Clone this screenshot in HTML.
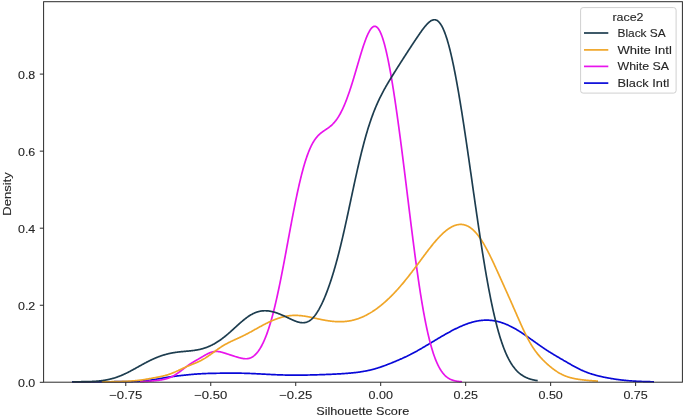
<!DOCTYPE html>
<html><head><meta charset="utf-8"><style>
html,body{margin:0;padding:0;background:#fff;}
svg{display:block;will-change:transform;}
text{font-family:"Liberation Sans",sans-serif;font-size:11.6px;fill:#262626;stroke:#262626;stroke-width:0.12px;}
.t{opacity:0.999;}
</style></head><body>
<svg width="685" height="417" viewBox="0 0 685 417">
<rect width="685" height="417" fill="#fff"/>
<path d="M72.00,381.94 L72.49,381.93 L72.97,381.93 L73.46,381.93 L73.94,381.93 L74.43,381.93 L74.91,381.92 L75.40,381.92 L75.88,381.92 L76.37,381.92 L76.85,381.91 L77.34,381.91 L77.82,381.91 L78.31,381.91 L78.80,381.91 L79.28,381.90 L79.77,381.90 L80.25,381.90 L80.74,381.90 L81.22,381.89 L81.71,381.89 L82.19,381.89 L82.68,381.89 L83.16,381.88 L83.65,381.88 L84.14,381.88 L84.62,381.88 L85.11,381.87 L85.59,381.87 L86.08,381.87 L86.56,381.86 L87.05,381.86 L87.53,381.86 L88.02,381.86 L88.50,381.85 L88.99,381.85 L89.47,381.85 L89.96,381.84 L90.45,381.84 L90.93,381.84 L91.42,381.84 L91.90,381.83 L92.39,381.83 L92.87,381.83 L93.36,381.83 L93.84,381.82 L94.33,381.82 L94.81,381.82 L95.30,381.81 L95.78,381.81 L96.27,381.81 L96.76,381.81 L97.24,381.80 L97.73,381.80 L98.21,381.80 L98.70,381.80 L99.18,381.79 L99.67,381.79 L100.15,381.79 L100.64,381.79 L101.12,381.78 L101.61,381.78 L102.10,381.78 L102.58,381.78 L103.07,381.77 L103.55,381.77 L104.04,381.77 L104.52,381.77 L105.01,381.76 L105.49,381.76 L105.98,381.76 L106.46,381.76 L106.95,381.75 L107.43,381.75 L107.92,381.75 L108.41,381.75 L108.89,381.75 L109.38,381.74 L109.86,381.74 L110.35,381.74 L110.83,381.74 L111.32,381.74 L111.80,381.73 L112.29,381.73 L112.77,381.73 L113.26,381.73 L113.74,381.73 L114.23,381.72 L114.72,381.72 L115.20,381.72 L115.69,381.72 L116.17,381.72 L116.66,381.71 L117.14,381.71 L117.63,381.71 L118.11,381.71 L118.60,381.70 L119.08,381.70 L119.57,381.70 L120.06,381.70 L120.54,381.69 L121.03,381.69 L121.51,381.69 L122.00,381.68 L122.48,381.68 L122.97,381.68 L123.45,381.67 L123.94,381.67 L124.42,381.66 L124.91,381.66 L125.39,381.65 L125.88,381.65 L126.37,381.64 L126.85,381.64 L127.34,381.63 L127.82,381.62 L128.31,381.62 L128.79,381.61 L129.28,381.60 L129.76,381.59 L130.25,381.58 L130.73,381.57 L131.22,381.56 L131.70,381.55 L132.19,381.54 L132.68,381.53 L133.16,381.51 L133.65,381.50 L134.13,381.48 L134.62,381.47 L135.10,381.45 L135.59,381.43 L136.07,381.41 L136.56,381.39 L137.04,381.37 L137.53,381.35 L138.02,381.32 L138.50,381.30 L138.99,381.27 L139.47,381.24 L139.96,381.21 L140.44,381.18 L140.93,381.14 L141.41,381.11 L141.90,381.07 L142.38,381.03 L142.87,380.99 L143.35,380.95 L143.84,380.91 L144.33,380.86 L144.81,380.82 L145.30,380.77 L145.78,380.72 L146.27,380.66 L146.75,380.61 L147.24,380.55 L147.72,380.49 L148.21,380.43 L148.69,380.37 L149.18,380.31 L149.66,380.24 L150.15,380.17 L150.64,380.11 L151.12,380.04 L151.61,379.96 L152.09,379.89 L152.58,379.81 L153.06,379.74 L153.55,379.66 L154.03,379.58 L154.52,379.50 L155.00,379.42 L155.49,379.34 L155.97,379.26 L156.46,379.17 L156.95,379.09 L157.43,379.00 L157.92,378.92 L158.40,378.83 L158.89,378.75 L159.37,378.66 L159.86,378.58 L160.34,378.49 L160.83,378.40 L161.31,378.32 L161.80,378.23 L162.29,378.15 L162.77,378.06 L163.26,377.98 L163.74,377.90 L164.23,377.81 L164.71,377.73 L165.20,377.65 L165.68,377.57 L166.17,377.49 L166.65,377.42 L167.14,377.34 L167.62,377.26 L168.11,377.19 L168.60,377.11 L169.08,377.04 L169.57,376.97 L170.05,376.90 L170.54,376.83 L171.02,376.76 L171.51,376.69 L171.99,376.63 L172.48,376.56 L172.96,376.50 L173.45,376.43 L173.93,376.37 L174.42,376.31 L174.91,376.25 L175.39,376.19 L175.88,376.13 L176.36,376.07 L176.85,376.01 L177.33,375.95 L177.82,375.89 L178.30,375.84 L178.79,375.78 L179.27,375.73 L179.76,375.67 L180.25,375.62 L180.73,375.56 L181.22,375.51 L181.70,375.45 L182.19,375.40 L182.67,375.35 L183.16,375.29 L183.64,375.24 L184.13,375.19 L184.61,375.14 L185.10,375.09 L185.58,375.04 L186.07,374.99 L186.56,374.94 L187.04,374.89 L187.53,374.84 L188.01,374.79 L188.50,374.74 L188.98,374.70 L189.47,374.65 L189.95,374.60 L190.44,374.56 L190.92,374.51 L191.41,374.47 L191.89,374.42 L192.38,374.38 L192.87,374.34 L193.35,374.30 L193.84,374.26 L194.32,374.22 L194.81,374.18 L195.29,374.14 L195.78,374.10 L196.26,374.07 L196.75,374.03 L197.23,374.00 L197.72,373.96 L198.21,373.93 L198.69,373.90 L199.18,373.87 L199.66,373.84 L200.15,373.81 L200.63,373.78 L201.12,373.76 L201.60,373.73 L202.09,373.70 L202.57,373.68 L203.06,373.66 L203.54,373.63 L204.03,373.61 L204.52,373.59 L205.00,373.57 L205.49,373.55 L205.97,373.53 L206.46,373.52 L206.94,373.50 L207.43,373.48 L207.91,373.47 L208.40,373.45 L208.88,373.44 L209.37,373.42 L209.85,373.41 L210.34,373.40 L210.83,373.39 L211.31,373.37 L211.80,373.36 L212.28,373.35 L212.77,373.34 L213.25,373.33 L213.74,373.32 L214.22,373.31 L214.71,373.30 L215.19,373.29 L215.68,373.29 L216.17,373.28 L216.65,373.27 L217.14,373.26 L217.62,373.25 L218.11,373.25 L218.59,373.24 L219.08,373.23 L219.56,373.23 L220.05,373.22 L220.53,373.21 L221.02,373.21 L221.50,373.20 L221.99,373.20 L222.48,373.19 L222.96,373.18 L223.45,373.18 L223.93,373.17 L224.42,373.17 L224.90,373.17 L225.39,373.16 L225.87,373.16 L226.36,373.15 L226.84,373.15 L227.33,373.15 L227.81,373.14 L228.30,373.14 L228.79,373.14 L229.27,373.14 L229.76,373.13 L230.24,373.13 L230.73,373.13 L231.21,373.13 L231.70,373.13 L232.18,373.13 L232.67,373.13 L233.15,373.13 L233.64,373.13 L234.13,373.13 L234.61,373.14 L235.10,373.14 L235.58,373.14 L236.07,373.15 L236.55,373.15 L237.04,373.15 L237.52,373.16 L238.01,373.16 L238.49,373.17 L238.98,373.18 L239.46,373.18 L239.95,373.19 L240.44,373.20 L240.92,373.21 L241.41,373.22 L241.89,373.23 L242.38,373.24 L242.86,373.25 L243.35,373.26 L243.83,373.27 L244.32,373.28 L244.80,373.30 L245.29,373.31 L245.77,373.33 L246.26,373.34 L246.75,373.36 L247.23,373.37 L247.72,373.39 L248.20,373.40 L248.69,373.42 L249.17,373.44 L249.66,373.46 L250.14,373.48 L250.63,373.50 L251.11,373.52 L251.60,373.54 L252.09,373.56 L252.57,373.58 L253.06,373.60 L253.54,373.62 L254.03,373.64 L254.51,373.66 L255.00,373.69 L255.48,373.71 L255.97,373.73 L256.45,373.76 L256.94,373.78 L257.42,373.81 L257.91,373.83 L258.40,373.86 L258.88,373.88 L259.37,373.90 L259.85,373.93 L260.34,373.96 L260.82,373.98 L261.31,374.01 L261.79,374.03 L262.28,374.06 L262.76,374.08 L263.25,374.11 L263.73,374.13 L264.22,374.16 L264.71,374.19 L265.19,374.21 L265.68,374.24 L266.16,374.26 L266.65,374.29 L267.13,374.31 L267.62,374.34 L268.10,374.36 L268.59,374.39 L269.07,374.41 L269.56,374.44 L270.05,374.46 L270.53,374.49 L271.02,374.51 L271.50,374.53 L271.99,374.56 L272.47,374.58 L272.96,374.60 L273.44,374.62 L273.93,374.65 L274.41,374.67 L274.90,374.69 L275.38,374.71 L275.87,374.73 L276.36,374.75 L276.84,374.77 L277.33,374.79 L277.81,374.81 L278.30,374.82 L278.78,374.84 L279.27,374.86 L279.75,374.88 L280.24,374.89 L280.72,374.91 L281.21,374.92 L281.69,374.94 L282.18,374.95 L282.67,374.97 L283.15,374.98 L283.64,375.00 L284.12,375.01 L284.61,375.02 L285.09,375.03 L285.58,375.04 L286.06,375.05 L286.55,375.06 L287.03,375.07 L287.52,375.08 L288.01,375.09 L288.49,375.10 L288.98,375.10 L289.46,375.11 L289.95,375.12 L290.43,375.12 L290.92,375.13 L291.40,375.13 L291.89,375.14 L292.37,375.14 L292.86,375.14 L293.34,375.15 L293.83,375.15 L294.32,375.15 L294.80,375.15 L295.29,375.15 L295.77,375.15 L296.26,375.15 L296.74,375.15 L297.23,375.15 L297.71,375.15 L298.20,375.15 L298.68,375.14 L299.17,375.14 L299.65,375.14 L300.14,375.13 L300.63,375.13 L301.11,375.13 L301.60,375.12 L302.08,375.12 L302.57,375.11 L303.05,375.10 L303.54,375.10 L304.02,375.09 L304.51,375.08 L304.99,375.08 L305.48,375.07 L305.96,375.06 L306.45,375.05 L306.94,375.04 L307.42,375.03 L307.91,375.02 L308.39,375.01 L308.88,375.00 L309.36,374.99 L309.85,374.98 L310.33,374.97 L310.82,374.96 L311.30,374.95 L311.79,374.93 L312.28,374.92 L312.76,374.91 L313.25,374.90 L313.73,374.88 L314.22,374.87 L314.70,374.86 L315.19,374.84 L315.67,374.83 L316.16,374.82 L316.64,374.80 L317.13,374.79 L317.61,374.77 L318.10,374.76 L318.59,374.74 L319.07,374.73 L319.56,374.71 L320.04,374.70 L320.53,374.68 L321.01,374.67 L321.50,374.65 L321.98,374.63 L322.47,374.62 L322.95,374.60 L323.44,374.58 L323.92,374.56 L324.41,374.55 L324.90,374.53 L325.38,374.51 L325.87,374.49 L326.35,374.47 L326.84,374.46 L327.32,374.44 L327.81,374.42 L328.29,374.40 L328.78,374.38 L329.26,374.36 L329.75,374.34 L330.24,374.32 L330.72,374.30 L331.21,374.28 L331.69,374.26 L332.18,374.23 L332.66,374.21 L333.15,374.19 L333.63,374.17 L334.12,374.14 L334.60,374.12 L335.09,374.10 L335.57,374.07 L336.06,374.05 L336.55,374.02 L337.03,374.00 L337.52,373.97 L338.00,373.95 L338.49,373.92 L338.97,373.89 L339.46,373.87 L339.94,373.84 L340.43,373.81 L340.91,373.78 L341.40,373.75 L341.88,373.72 L342.37,373.69 L342.86,373.66 L343.34,373.63 L343.83,373.59 L344.31,373.56 L344.80,373.52 L345.28,373.49 L345.77,373.45 L346.25,373.42 L346.74,373.38 L347.22,373.34 L347.71,373.30 L348.20,373.26 L348.68,373.22 L349.17,373.18 L349.65,373.14 L350.14,373.09 L350.62,373.05 L351.11,373.00 L351.59,372.96 L352.08,372.91 L352.56,372.86 L353.05,372.81 L353.53,372.76 L354.02,372.71 L354.51,372.65 L354.99,372.60 L355.48,372.54 L355.96,372.48 L356.45,372.43 L356.93,372.37 L357.42,372.30 L357.90,372.24 L358.39,372.18 L358.87,372.11 L359.36,372.04 L359.84,371.97 L360.33,371.90 L360.82,371.83 L361.30,371.76 L361.79,371.68 L362.27,371.60 L362.76,371.52 L363.24,371.44 L363.73,371.36 L364.21,371.27 L364.70,371.19 L365.18,371.10 L365.67,371.01 L366.16,370.91 L366.64,370.82 L367.13,370.72 L367.61,370.62 L368.10,370.52 L368.58,370.41 L369.07,370.30 L369.55,370.20 L370.04,370.08 L370.52,369.97 L371.01,369.85 L371.49,369.73 L371.98,369.61 L372.47,369.49 L372.95,369.36 L373.44,369.23 L373.92,369.10 L374.41,368.97 L374.89,368.83 L375.38,368.69 L375.86,368.55 L376.35,368.41 L376.83,368.26 L377.32,368.11 L377.80,367.96 L378.29,367.81 L378.78,367.65 L379.26,367.50 L379.75,367.34 L380.23,367.17 L380.72,367.01 L381.20,366.84 L381.69,366.67 L382.17,366.50 L382.66,366.33 L383.14,366.16 L383.63,365.98 L384.12,365.80 L384.60,365.63 L385.09,365.44 L385.57,365.26 L386.06,365.08 L386.54,364.89 L387.03,364.71 L387.51,364.52 L388.00,364.33 L388.48,364.14 L388.97,363.95 L389.45,363.76 L389.94,363.57 L390.43,363.38 L390.91,363.18 L391.40,362.99 L391.88,362.79 L392.37,362.59 L392.85,362.40 L393.34,362.20 L393.82,362.00 L394.31,361.80 L394.79,361.60 L395.28,361.40 L395.76,361.19 L396.25,360.99 L396.74,360.78 L397.22,360.58 L397.71,360.37 L398.19,360.17 L398.68,359.96 L399.16,359.75 L399.65,359.54 L400.13,359.33 L400.62,359.11 L401.10,358.90 L401.59,358.68 L402.08,358.47 L402.56,358.25 L403.05,358.03 L403.53,357.81 L404.02,357.58 L404.50,357.36 L404.99,357.13 L405.47,356.90 L405.96,356.67 L406.44,356.44 L406.93,356.21 L407.41,355.97 L407.90,355.74 L408.39,355.50 L408.87,355.26 L409.36,355.02 L409.84,354.77 L410.33,354.53 L410.81,354.28 L411.30,354.03 L411.78,353.78 L412.27,353.52 L412.75,353.27 L413.24,353.01 L413.72,352.75 L414.21,352.49 L414.70,352.23 L415.18,351.97 L415.67,351.70 L416.15,351.43 L416.64,351.17 L417.12,350.90 L417.61,350.62 L418.09,350.35 L418.58,350.08 L419.06,349.80 L419.55,349.53 L420.04,349.25 L420.52,348.97 L421.01,348.69 L421.49,348.41 L421.98,348.13 L422.46,347.84 L422.95,347.56 L423.43,347.28 L423.92,346.99 L424.40,346.71 L424.89,346.42 L425.37,346.13 L425.86,345.84 L426.35,345.55 L426.83,345.27 L427.32,344.98 L427.80,344.69 L428.29,344.40 L428.77,344.11 L429.26,343.81 L429.74,343.52 L430.23,343.23 L430.71,342.94 L431.20,342.65 L431.68,342.36 L432.17,342.07 L432.66,341.77 L433.14,341.48 L433.63,341.19 L434.11,340.90 L434.60,340.61 L435.08,340.32 L435.57,340.03 L436.05,339.74 L436.54,339.45 L437.02,339.16 L437.51,338.87 L437.99,338.58 L438.48,338.29 L438.97,338.00 L439.45,337.72 L439.94,337.43 L440.42,337.14 L440.91,336.86 L441.39,336.57 L441.88,336.29 L442.36,336.01 L442.85,335.73 L443.33,335.45 L443.82,335.17 L444.31,334.89 L444.79,334.61 L445.28,334.33 L445.76,334.06 L446.25,333.78 L446.73,333.51 L447.22,333.24 L447.70,332.97 L448.19,332.70 L448.67,332.43 L449.16,332.17 L449.64,331.90 L450.13,331.64 L450.62,331.38 L451.10,331.12 L451.59,330.86 L452.07,330.60 L452.56,330.35 L453.04,330.10 L453.53,329.85 L454.01,329.60 L454.50,329.35 L454.98,329.11 L455.47,328.87 L455.95,328.63 L456.44,328.39 L456.93,328.15 L457.41,327.92 L457.90,327.69 L458.38,327.46 L458.87,327.23 L459.35,327.01 L459.84,326.79 L460.32,326.57 L460.81,326.36 L461.29,326.14 L461.78,325.93 L462.27,325.73 L462.75,325.52 L463.24,325.32 L463.72,325.12 L464.21,324.93 L464.69,324.74 L465.18,324.55 L465.66,324.36 L466.15,324.18 L466.63,324.00 L467.12,323.83 L467.60,323.66 L468.09,323.49 L468.58,323.32 L469.06,323.16 L469.55,323.01 L470.03,322.85 L470.52,322.70 L471.00,322.56 L471.49,322.41 L471.97,322.27 L472.46,322.14 L472.94,322.01 L473.43,321.88 L473.91,321.76 L474.40,321.64 L474.89,321.53 L475.37,321.42 L475.86,321.31 L476.34,321.21 L476.83,321.12 L477.31,321.02 L477.80,320.94 L478.28,320.85 L478.77,320.77 L479.25,320.70 L479.74,320.63 L480.23,320.57 L480.71,320.50 L481.20,320.45 L481.68,320.40 L482.17,320.35 L482.65,320.31 L483.14,320.27 L483.62,320.24 L484.11,320.21 L484.59,320.19 L485.08,320.18 L485.56,320.16 L486.05,320.16 L486.54,320.15 L487.02,320.16 L487.51,320.17 L487.99,320.18 L488.48,320.20 L488.96,320.22 L489.45,320.25 L489.93,320.28 L490.42,320.32 L490.90,320.36 L491.39,320.41 L491.87,320.46 L492.36,320.52 L492.85,320.59 L493.33,320.66 L493.82,320.73 L494.30,320.81 L494.79,320.89 L495.27,320.98 L495.76,321.08 L496.24,321.18 L496.73,321.28 L497.21,321.39 L497.70,321.51 L498.19,321.63 L498.67,321.75 L499.16,321.88 L499.64,322.02 L500.13,322.16 L500.61,322.30 L501.10,322.45 L501.58,322.61 L502.07,322.77 L502.55,322.93 L503.04,323.10 L503.52,323.28 L504.01,323.45 L504.50,323.64 L504.98,323.83 L505.47,324.02 L505.95,324.22 L506.44,324.42 L506.92,324.63 L507.41,324.84 L507.89,325.05 L508.38,325.27 L508.86,325.50 L509.35,325.72 L509.83,325.96 L510.32,326.19 L510.81,326.44 L511.29,326.68 L511.78,326.93 L512.26,327.18 L512.75,327.44 L513.23,327.70 L513.72,327.96 L514.20,328.23 L514.69,328.50 L515.17,328.78 L515.66,329.06 L516.15,329.34 L516.63,329.63 L517.12,329.92 L517.60,330.21 L518.09,330.50 L518.57,330.80 L519.06,331.10 L519.54,331.41 L520.03,331.72 L520.51,332.03 L521.00,332.34 L521.48,332.65 L521.97,332.97 L522.46,333.29 L522.94,333.61 L523.43,333.94 L523.91,334.27 L524.40,334.59 L524.88,334.93 L525.37,335.26 L525.85,335.59 L526.34,335.93 L526.82,336.27 L527.31,336.61 L527.79,336.95 L528.28,337.29 L528.77,337.63 L529.25,337.97 L529.74,338.32 L530.22,338.66 L530.71,339.01 L531.19,339.36 L531.68,339.70 L532.16,340.05 L532.65,340.40 L533.13,340.75 L533.62,341.10 L534.11,341.44 L534.59,341.79 L535.08,342.14 L535.56,342.49 L536.05,342.83 L536.53,343.18 L537.02,343.53 L537.50,343.87 L537.99,344.21 L538.47,344.56 L538.96,344.90 L539.44,345.24 L539.93,345.58 L540.42,345.92 L540.90,346.25 L541.39,346.59 L541.87,346.92 L542.36,347.25 L542.84,347.58 L543.33,347.91 L543.81,348.24 L544.30,348.56 L544.78,348.89 L545.27,349.21 L545.75,349.53 L546.24,349.85 L546.73,350.16 L547.21,350.48 L547.70,350.79 L548.18,351.10 L548.67,351.41 L549.15,351.72 L549.64,352.02 L550.12,352.33 L550.61,352.63 L551.09,352.93 L551.58,353.23 L552.07,353.53 L552.55,353.82 L553.04,354.12 L553.52,354.41 L554.01,354.70 L554.49,355.00 L554.98,355.29 L555.46,355.58 L555.95,355.86 L556.43,356.15 L556.92,356.44 L557.40,356.72 L557.89,357.01 L558.38,357.30 L558.86,357.58 L559.35,357.87 L559.83,358.15 L560.32,358.43 L560.80,358.72 L561.29,359.00 L561.77,359.28 L562.26,359.57 L562.74,359.85 L563.23,360.13 L563.71,360.42 L564.20,360.70 L564.69,360.98 L565.17,361.26 L565.66,361.55 L566.14,361.83 L566.63,362.11 L567.11,362.39 L567.60,362.67 L568.08,362.95 L568.57,363.23 L569.05,363.51 L569.54,363.79 L570.03,364.06 L570.51,364.34 L571.00,364.62 L571.48,364.89 L571.97,365.16 L572.45,365.43 L572.94,365.70 L573.42,365.97 L573.91,366.24 L574.39,366.50 L574.88,366.76 L575.36,367.02 L575.85,367.28 L576.34,367.54 L576.82,367.79 L577.31,368.04 L577.79,368.29 L578.28,368.54 L578.76,368.78 L579.25,369.02 L579.73,369.25 L580.22,369.49 L580.70,369.72 L581.19,369.94 L581.67,370.17 L582.16,370.39 L582.65,370.60 L583.13,370.82 L583.62,371.03 L584.10,371.23 L584.59,371.44 L585.07,371.64 L585.56,371.83 L586.04,372.02 L586.53,372.21 L587.01,372.40 L587.50,372.58 L587.98,372.76 L588.47,372.94 L588.96,373.11 L589.44,373.28 L589.93,373.44 L590.41,373.61 L590.90,373.77 L591.38,373.92 L591.87,374.08 L592.35,374.23 L592.84,374.38 L593.32,374.52 L593.81,374.66 L594.30,374.80 L594.78,374.94 L595.27,375.08 L595.75,375.21 L596.24,375.34 L596.72,375.47 L597.21,375.60 L597.69,375.72 L598.18,375.84 L598.66,375.96 L599.15,376.08 L599.63,376.20 L600.12,376.31 L600.61,376.42 L601.09,376.53 L601.58,376.64 L602.06,376.75 L602.55,376.86 L603.03,376.96 L603.52,377.06 L604.00,377.17 L604.49,377.27 L604.97,377.37 L605.46,377.46 L605.94,377.56 L606.43,377.65 L606.92,377.75 L607.40,377.84 L607.89,377.93 L608.37,378.02 L608.86,378.11 L609.34,378.20 L609.83,378.28 L610.31,378.37 L610.80,378.45 L611.28,378.54 L611.77,378.62 L612.26,378.70 L612.74,378.78 L613.23,378.86 L613.71,378.93 L614.20,379.01 L614.68,379.08 L615.17,379.16 L615.65,379.23 L616.14,379.30 L616.62,379.37 L617.11,379.44 L617.59,379.51 L618.08,379.57 L618.57,379.64 L619.05,379.70 L619.54,379.76 L620.02,379.82 L620.51,379.89 L620.99,379.94 L621.48,380.00 L621.96,380.06 L622.45,380.11 L622.93,380.17 L623.42,380.22 L623.90,380.27 L624.39,380.32 L624.88,380.37 L625.36,380.42 L625.85,380.47 L626.33,380.52 L626.82,380.56 L627.30,380.61 L627.79,380.65 L628.27,380.69 L628.76,380.73 L629.24,380.77 L629.73,380.81 L630.22,380.85 L630.70,380.88 L631.19,380.92 L631.67,380.95 L632.16,380.99 L632.64,381.02 L633.13,381.05 L633.61,381.08 L634.10,381.11 L634.58,381.14 L635.07,381.17 L635.55,381.20 L636.04,381.22 L636.53,381.25 L637.01,381.28 L637.50,381.30 L637.98,381.32 L638.47,381.35 L638.95,381.37 L639.44,381.39 L639.92,381.41 L640.41,381.43 L640.89,381.45 L641.38,381.47 L641.86,381.49 L642.35,381.50 L642.84,381.52 L643.32,381.54 L643.81,381.55 L644.29,381.57 L644.78,381.58 L645.26,381.60 L645.75,381.61 L646.23,381.62 L646.72,381.64 L647.20,381.65 L647.69,381.66 L648.18,381.67 L648.66,381.68 L649.15,381.69 L649.63,381.71 L650.12,381.72 L650.60,381.73 L651.09,381.73 L651.57,381.74 L652.06,381.75 L652.54,381.76 L653.03,381.77 L653.51,381.78 L654.00,381.79" fill="none" stroke="#0808d8" stroke-width="1.7" stroke-linejoin="round" stroke-linecap="butt"/>
<path d="M140.00,381.71 L140.27,381.70 L140.54,381.69 L140.81,381.68 L141.07,381.67 L141.34,381.66 L141.61,381.65 L141.88,381.63 L142.15,381.62 L142.42,381.61 L142.69,381.60 L142.95,381.58 L143.22,381.57 L143.49,381.56 L143.76,381.54 L144.03,381.53 L144.30,381.52 L144.57,381.50 L144.83,381.49 L145.10,381.47 L145.37,381.46 L145.64,381.44 L145.91,381.43 L146.18,381.41 L146.45,381.39 L146.71,381.38 L146.98,381.36 L147.25,381.34 L147.52,381.33 L147.79,381.31 L148.06,381.29 L148.33,381.27 L148.59,381.25 L148.86,381.23 L149.13,381.21 L149.40,381.19 L149.67,381.17 L149.94,381.15 L150.21,381.13 L150.47,381.11 L150.74,381.09 L151.01,381.07 L151.28,381.05 L151.55,381.02 L151.82,381.00 L152.09,380.98 L152.35,380.95 L152.62,380.93 L152.89,380.91 L153.16,380.88 L153.43,380.86 L153.70,380.83 L153.96,380.81 L154.23,380.78 L154.50,380.75 L154.77,380.73 L155.04,380.70 L155.31,380.67 L155.58,380.64 L155.84,380.61 L156.11,380.58 L156.38,380.55 L156.65,380.52 L156.92,380.49 L157.19,380.46 L157.46,380.43 L157.72,380.39 L157.99,380.36 L158.26,380.32 L158.53,380.29 L158.80,380.25 L159.07,380.21 L159.34,380.18 L159.60,380.14 L159.87,380.10 L160.14,380.06 L160.41,380.02 L160.68,379.97 L160.95,379.93 L161.22,379.89 L161.48,379.84 L161.75,379.79 L162.02,379.74 L162.29,379.69 L162.56,379.64 L162.83,379.59 L163.10,379.54 L163.36,379.48 L163.63,379.42 L163.90,379.37 L164.17,379.31 L164.44,379.24 L164.71,379.18 L164.98,379.11 L165.24,379.05 L165.51,378.98 L165.78,378.91 L166.05,378.83 L166.32,378.76 L166.59,378.68 L166.86,378.60 L167.12,378.52 L167.39,378.44 L167.66,378.35 L167.93,378.26 L168.20,378.17 L168.47,378.08 L168.74,377.98 L169.00,377.88 L169.27,377.78 L169.54,377.68 L169.81,377.57 L170.08,377.46 L170.35,377.35 L170.62,377.23 L170.88,377.11 L171.15,376.99 L171.42,376.87 L171.69,376.74 L171.96,376.62 L172.23,376.48 L172.50,376.35 L172.76,376.21 L173.03,376.07 L173.30,375.93 L173.57,375.78 L173.84,375.63 L174.11,375.48 L174.38,375.32 L174.64,375.17 L174.91,375.01 L175.18,374.84 L175.45,374.68 L175.72,374.51 L175.99,374.34 L176.26,374.17 L176.52,373.99 L176.79,373.81 L177.06,373.63 L177.33,373.45 L177.60,373.26 L177.87,373.08 L178.14,372.89 L178.40,372.70 L178.67,372.50 L178.94,372.31 L179.21,372.11 L179.48,371.92 L179.75,371.72 L180.02,371.52 L180.28,371.31 L180.55,371.11 L180.82,370.91 L181.09,370.70 L181.36,370.50 L181.63,370.29 L181.89,370.09 L182.16,369.88 L182.43,369.67 L182.70,369.47 L182.97,369.26 L183.24,369.05 L183.51,368.84 L183.77,368.64 L184.04,368.43 L184.31,368.22 L184.58,368.02 L184.85,367.81 L185.12,367.61 L185.39,367.41 L185.65,367.20 L185.92,367.00 L186.19,366.80 L186.46,366.60 L186.73,366.41 L187.00,366.21 L187.27,366.01 L187.53,365.82 L187.80,365.63 L188.07,365.44 L188.34,365.25 L188.61,365.06 L188.88,364.88 L189.15,364.69 L189.41,364.51 L189.68,364.33 L189.95,364.15 L190.22,363.97 L190.49,363.79 L190.76,363.62 L191.03,363.44 L191.29,363.27 L191.56,363.10 L191.83,362.93 L192.10,362.76 L192.37,362.60 L192.64,362.43 L192.91,362.27 L193.17,362.10 L193.44,361.94 L193.71,361.78 L193.98,361.62 L194.25,361.46 L194.52,361.30 L194.79,361.15 L195.05,360.99 L195.32,360.83 L195.59,360.68 L195.86,360.52 L196.13,360.36 L196.40,360.21 L196.67,360.05 L196.93,359.90 L197.20,359.74 L197.47,359.59 L197.74,359.43 L198.01,359.28 L198.28,359.12 L198.55,358.97 L198.81,358.81 L199.08,358.66 L199.35,358.50 L199.62,358.35 L199.89,358.19 L200.16,358.03 L200.43,357.87 L200.69,357.72 L200.96,357.56 L201.23,357.40 L201.50,357.24 L201.77,357.09 L202.04,356.93 L202.31,356.77 L202.57,356.61 L202.84,356.45 L203.11,356.30 L203.38,356.14 L203.65,355.98 L203.92,355.82 L204.19,355.67 L204.45,355.51 L204.72,355.36 L204.99,355.21 L205.26,355.05 L205.53,354.90 L205.80,354.75 L206.07,354.61 L206.33,354.46 L206.60,354.31 L206.87,354.17 L207.14,354.03 L207.41,353.89 L207.68,353.76 L207.94,353.63 L208.21,353.49 L208.48,353.37 L208.75,353.24 L209.02,353.12 L209.29,353.00 L209.56,352.89 L209.82,352.78 L210.09,352.67 L210.36,352.57 L210.63,352.47 L210.90,352.37 L211.17,352.28 L211.44,352.20 L211.70,352.11 L211.97,352.04 L212.24,351.96 L212.51,351.89 L212.78,351.83 L213.05,351.77 L213.32,351.72 L213.58,351.67 L213.85,351.62 L214.12,351.58 L214.39,351.55 L214.66,351.52 L214.93,351.49 L215.20,351.47 L215.46,351.45 L215.73,351.44 L216.00,351.44 L216.27,351.43 L216.54,351.44 L216.81,351.44 L217.08,351.45 L217.34,351.47 L217.61,351.49 L217.88,351.51 L218.15,351.54 L218.42,351.57 L218.69,351.61 L218.96,351.65 L219.22,351.69 L219.49,351.73 L219.76,351.78 L220.03,351.84 L220.30,351.89 L220.57,351.95 L220.84,352.01 L221.10,352.07 L221.37,352.14 L221.64,352.21 L221.91,352.28 L222.18,352.35 L222.45,352.42 L222.72,352.50 L222.98,352.58 L223.25,352.65 L223.52,352.73 L223.79,352.82 L224.06,352.90 L224.33,352.98 L224.60,353.07 L224.86,353.15 L225.13,353.24 L225.40,353.32 L225.67,353.41 L225.94,353.50 L226.21,353.59 L226.48,353.67 L226.74,353.76 L227.01,353.85 L227.28,353.94 L227.55,354.03 L227.82,354.11 L228.09,354.20 L228.36,354.29 L228.62,354.38 L228.89,354.47 L229.16,354.55 L229.43,354.64 L229.70,354.73 L229.97,354.82 L230.24,354.90 L230.50,354.99 L230.77,355.08 L231.04,355.16 L231.31,355.25 L231.58,355.34 L231.85,355.42 L232.12,355.51 L232.38,355.59 L232.65,355.68 L232.92,355.76 L233.19,355.85 L233.46,355.93 L233.73,356.02 L233.99,356.10 L234.26,356.19 L234.53,356.27 L234.80,356.36 L235.07,356.44 L235.34,356.52 L235.61,356.61 L235.87,356.69 L236.14,356.77 L236.41,356.85 L236.68,356.93 L236.95,357.01 L237.22,357.09 L237.49,357.17 L237.75,357.25 L238.02,357.33 L238.29,357.41 L238.56,357.49 L238.83,357.56 L239.10,357.64 L239.37,357.71 L239.63,357.78 L239.90,357.85 L240.17,357.92 L240.44,357.99 L240.71,358.05 L240.98,358.12 L241.25,358.18 L241.51,358.24 L241.78,358.29 L242.05,358.35 L242.32,358.40 L242.59,358.45 L242.86,358.50 L243.13,358.54 L243.39,358.58 L243.66,358.62 L243.93,358.65 L244.20,358.68 L244.47,358.70 L244.74,358.73 L245.01,358.74 L245.27,358.76 L245.54,358.76 L245.81,358.77 L246.08,358.77 L246.35,358.76 L246.62,358.75 L246.89,358.73 L247.15,358.71 L247.42,358.68 L247.69,358.64 L247.96,358.60 L248.23,358.56 L248.50,358.50 L248.77,358.44 L249.03,358.38 L249.30,358.31 L249.57,358.23 L249.84,358.14 L250.11,358.05 L250.38,357.94 L250.65,357.84 L250.91,357.72 L251.18,357.60 L251.45,357.46 L251.72,357.33 L251.99,357.18 L252.26,357.02 L252.53,356.86 L252.79,356.69 L253.06,356.51 L253.33,356.32 L253.60,356.12 L253.87,355.91 L254.14,355.70 L254.41,355.47 L254.67,355.24 L254.94,355.00 L255.21,354.74 L255.48,354.48 L255.75,354.21 L256.02,353.93 L256.29,353.64 L256.55,353.35 L256.82,353.04 L257.09,352.72 L257.36,352.39 L257.63,352.05 L257.90,351.71 L258.17,351.35 L258.43,350.98 L258.70,350.60 L258.97,350.21 L259.24,349.81 L259.51,349.40 L259.78,348.98 L260.05,348.55 L260.31,348.11 L260.58,347.66 L260.85,347.20 L261.12,346.72 L261.39,346.24 L261.66,345.74 L261.92,345.24 L262.19,344.72 L262.46,344.19 L262.73,343.65 L263.00,343.09 L263.27,342.53 L263.54,341.95 L263.80,341.37 L264.07,340.77 L264.34,340.16 L264.61,339.53 L264.88,338.90 L265.15,338.25 L265.42,337.59 L265.68,336.92 L265.95,336.23 L266.22,335.54 L266.49,334.83 L266.76,334.11 L267.03,333.37 L267.30,332.62 L267.56,331.87 L267.83,331.09 L268.10,330.31 L268.37,329.51 L268.64,328.70 L268.91,327.88 L269.18,327.04 L269.44,326.19 L269.71,325.33 L269.98,324.45 L270.25,323.56 L270.52,322.66 L270.79,321.74 L271.06,320.82 L271.32,319.88 L271.59,318.92 L271.86,317.96 L272.13,316.98 L272.40,315.98 L272.67,314.98 L272.94,313.96 L273.20,312.93 L273.47,311.88 L273.74,310.83 L274.01,309.76 L274.28,308.68 L274.55,307.58 L274.82,306.48 L275.08,305.36 L275.35,304.23 L275.62,303.09 L275.89,301.93 L276.16,300.77 L276.43,299.59 L276.70,298.40 L276.96,297.20 L277.23,295.99 L277.50,294.77 L277.77,293.54 L278.04,292.30 L278.31,291.04 L278.58,289.78 L278.84,288.51 L279.11,287.22 L279.38,285.93 L279.65,284.63 L279.92,283.32 L280.19,282.00 L280.46,280.67 L280.72,279.33 L280.99,277.99 L281.26,276.64 L281.53,275.28 L281.80,273.91 L282.07,272.53 L282.34,271.15 L282.60,269.77 L282.87,268.37 L283.14,266.97 L283.41,265.57 L283.68,264.16 L283.95,262.74 L284.22,261.32 L284.48,259.90 L284.75,258.47 L285.02,257.04 L285.29,255.60 L285.56,254.16 L285.83,252.72 L286.10,251.28 L286.36,249.83 L286.63,248.38 L286.90,246.93 L287.17,245.48 L287.44,244.03 L287.71,242.58 L287.97,241.13 L288.24,239.67 L288.51,238.22 L288.78,236.77 L289.05,235.32 L289.32,233.87 L289.59,232.43 L289.85,230.99 L290.12,229.54 L290.39,228.11 L290.66,226.67 L290.93,225.24 L291.20,223.81 L291.47,222.39 L291.73,220.97 L292.00,219.56 L292.27,218.15 L292.54,216.74 L292.81,215.35 L293.08,213.95 L293.35,212.57 L293.61,211.19 L293.88,209.82 L294.15,208.46 L294.42,207.10 L294.69,205.75 L294.96,204.41 L295.23,203.08 L295.49,201.76 L295.76,200.44 L296.03,199.14 L296.30,197.84 L296.57,196.56 L296.84,195.28 L297.11,194.02 L297.37,192.76 L297.64,191.52 L297.91,190.29 L298.18,189.07 L298.45,187.86 L298.72,186.66 L298.99,185.47 L299.25,184.30 L299.52,183.14 L299.79,181.99 L300.06,180.85 L300.33,179.72 L300.60,178.61 L300.87,177.52 L301.13,176.43 L301.40,175.36 L301.67,174.30 L301.94,173.26 L302.21,172.23 L302.48,171.21 L302.75,170.21 L303.01,169.22 L303.28,168.25 L303.55,167.29 L303.82,166.34 L304.09,165.41 L304.36,164.49 L304.63,163.59 L304.89,162.70 L305.16,161.83 L305.43,160.97 L305.70,160.12 L305.97,159.29 L306.24,158.48 L306.51,157.68 L306.77,156.89 L307.04,156.12 L307.31,155.36 L307.58,154.62 L307.85,153.89 L308.12,153.18 L308.39,152.48 L308.65,151.80 L308.92,151.12 L309.19,150.47 L309.46,149.82 L309.73,149.19 L310.00,148.58 L310.27,147.98 L310.53,147.39 L310.80,146.81 L311.07,146.25 L311.34,145.70 L311.61,145.17 L311.88,144.64 L312.15,144.13 L312.41,143.64 L312.68,143.15 L312.95,142.68 L313.22,142.21 L313.49,141.76 L313.76,141.33 L314.03,140.90 L314.29,140.48 L314.56,140.08 L314.83,139.68 L315.10,139.30 L315.37,138.92 L315.64,138.56 L315.90,138.21 L316.17,137.86 L316.44,137.53 L316.71,137.20 L316.98,136.88 L317.25,136.57 L317.52,136.27 L317.78,135.98 L318.05,135.69 L318.32,135.42 L318.59,135.15 L318.86,134.88 L319.13,134.62 L319.40,134.37 L319.66,134.13 L319.93,133.89 L320.20,133.66 L320.47,133.43 L320.74,133.21 L321.01,132.99 L321.28,132.78 L321.54,132.57 L321.81,132.36 L322.08,132.16 L322.35,131.96 L322.62,131.76 L322.89,131.57 L323.16,131.38 L323.42,131.19 L323.69,131.01 L323.96,130.82 L324.23,130.64 L324.50,130.46 L324.77,130.28 L325.04,130.10 L325.30,129.92 L325.57,129.74 L325.84,129.56 L326.11,129.38 L326.38,129.19 L326.65,129.01 L326.92,128.83 L327.18,128.64 L327.45,128.46 L327.72,128.27 L327.99,128.08 L328.26,127.88 L328.53,127.69 L328.80,127.49 L329.06,127.28 L329.33,127.08 L329.60,126.87 L329.87,126.66 L330.14,126.44 L330.41,126.22 L330.68,125.99 L330.94,125.76 L331.21,125.53 L331.48,125.29 L331.75,125.04 L332.02,124.79 L332.29,124.53 L332.56,124.27 L332.82,124.00 L333.09,123.73 L333.36,123.45 L333.63,123.16 L333.90,122.87 L334.17,122.57 L334.44,122.26 L334.70,121.95 L334.97,121.63 L335.24,121.30 L335.51,120.96 L335.78,120.62 L336.05,120.26 L336.32,119.90 L336.58,119.54 L336.85,119.16 L337.12,118.78 L337.39,118.39 L337.66,117.98 L337.93,117.58 L338.20,117.16 L338.46,116.73 L338.73,116.30 L339.00,115.85 L339.27,115.40 L339.54,114.94 L339.81,114.47 L340.08,113.99 L340.34,113.50 L340.61,113.00 L340.88,112.50 L341.15,111.98 L341.42,111.46 L341.69,110.92 L341.95,110.38 L342.22,109.82 L342.49,109.26 L342.76,108.69 L343.03,108.11 L343.30,107.52 L343.57,106.92 L343.83,106.31 L344.10,105.69 L344.37,105.06 L344.64,104.43 L344.91,103.78 L345.18,103.12 L345.45,102.46 L345.71,101.79 L345.98,101.10 L346.25,100.41 L346.52,99.71 L346.79,99.00 L347.06,98.29 L347.33,97.56 L347.59,96.83 L347.86,96.08 L348.13,95.33 L348.40,94.57 L348.67,93.80 L348.94,93.03 L349.21,92.25 L349.47,91.46 L349.74,90.66 L350.01,89.85 L350.28,89.04 L350.55,88.22 L350.82,87.39 L351.09,86.56 L351.35,85.72 L351.62,84.87 L351.89,84.02 L352.16,83.16 L352.43,82.30 L352.70,81.43 L352.97,80.56 L353.23,79.68 L353.50,78.79 L353.77,77.91 L354.04,77.01 L354.31,76.12 L354.58,75.22 L354.85,74.32 L355.11,73.41 L355.38,72.50 L355.65,71.59 L355.92,70.68 L356.19,69.77 L356.46,68.85 L356.73,67.93 L356.99,67.02 L357.26,66.10 L357.53,65.18 L357.80,64.26 L358.07,63.35 L358.34,62.43 L358.61,61.52 L358.87,60.61 L359.14,59.70 L359.41,58.79 L359.68,57.89 L359.95,56.99 L360.22,56.09 L360.49,55.20 L360.75,54.31 L361.02,53.43 L361.29,52.55 L361.56,51.69 L361.83,50.82 L362.10,49.97 L362.37,49.12 L362.63,48.28 L362.90,47.45 L363.17,46.63 L363.44,45.81 L363.71,45.01 L363.98,44.22 L364.25,43.44 L364.51,42.67 L364.78,41.91 L365.05,41.16 L365.32,40.43 L365.59,39.71 L365.86,39.01 L366.13,38.31 L366.39,37.64 L366.66,36.97 L366.93,36.33 L367.20,35.70 L367.47,35.08 L367.74,34.49 L368.01,33.91 L368.27,33.35 L368.54,32.81 L368.81,32.28 L369.08,31.78 L369.35,31.29 L369.62,30.83 L369.88,30.38 L370.15,29.96 L370.42,29.56 L370.69,29.18 L370.96,28.82 L371.23,28.48 L371.50,28.17 L371.76,27.88 L372.03,27.61 L372.30,27.37 L372.57,27.15 L372.84,26.95 L373.11,26.78 L373.38,26.64 L373.64,26.52 L373.91,26.42 L374.18,26.36 L374.45,26.31 L374.72,26.30 L374.99,26.31 L375.26,26.35 L375.52,26.41 L375.79,26.50 L376.06,26.62 L376.33,26.77 L376.60,26.94 L376.87,27.14 L377.14,27.37 L377.40,27.62 L377.67,27.91 L377.94,28.22 L378.21,28.56 L378.48,28.93 L378.75,29.32 L379.02,29.75 L379.28,30.20 L379.55,30.68 L379.82,31.19 L380.09,31.72 L380.36,32.29 L380.63,32.88 L380.90,33.50 L381.16,34.15 L381.43,34.82 L381.70,35.52 L381.97,36.25 L382.24,37.01 L382.51,37.80 L382.78,38.61 L383.04,39.45 L383.31,40.31 L383.58,41.20 L383.85,42.12 L384.12,43.06 L384.39,44.03 L384.66,45.03 L384.92,46.05 L385.19,47.09 L385.46,48.17 L385.73,49.26 L386.00,50.38 L386.27,51.53 L386.54,52.70 L386.80,53.89 L387.07,55.10 L387.34,56.34 L387.61,57.61 L387.88,58.89 L388.15,60.20 L388.42,61.53 L388.68,62.88 L388.95,64.26 L389.22,65.65 L389.49,67.07 L389.76,68.50 L390.03,69.96 L390.30,71.44 L390.56,72.94 L390.83,74.46 L391.10,75.99 L391.37,77.55 L391.64,79.13 L391.91,80.72 L392.18,82.33 L392.44,83.96 L392.71,85.61 L392.98,87.28 L393.25,88.96 L393.52,90.66 L393.79,92.38 L394.06,94.11 L394.32,95.86 L394.59,97.62 L394.86,99.41 L395.13,101.20 L395.40,103.01 L395.67,104.84 L395.93,106.68 L396.20,108.54 L396.47,110.41 L396.74,112.29 L397.01,114.19 L397.28,116.10 L397.55,118.02 L397.81,119.95 L398.08,121.90 L398.35,123.86 L398.62,125.83 L398.89,127.82 L399.16,129.81 L399.43,131.82 L399.69,133.84 L399.96,135.86 L400.23,137.90 L400.50,139.95 L400.77,142.01 L401.04,144.07 L401.31,146.15 L401.57,148.23 L401.84,150.33 L402.11,152.43 L402.38,154.53 L402.65,156.65 L402.92,158.77 L403.19,160.90 L403.45,163.04 L403.72,165.18 L403.99,167.33 L404.26,169.48 L404.53,171.64 L404.80,173.80 L405.07,175.97 L405.33,178.14 L405.60,180.32 L405.87,182.49 L406.14,184.67 L406.41,186.86 L406.68,189.04 L406.95,191.23 L407.21,193.41 L407.48,195.60 L407.75,197.79 L408.02,199.97 L408.29,202.16 L408.56,204.35 L408.83,206.53 L409.09,208.71 L409.36,210.89 L409.63,213.07 L409.90,215.24 L410.17,217.41 L410.44,219.58 L410.71,221.74 L410.97,223.89 L411.24,226.04 L411.51,228.18 L411.78,230.32 L412.05,232.45 L412.32,234.57 L412.59,236.69 L412.85,238.80 L413.12,240.89 L413.39,242.98 L413.66,245.06 L413.93,247.13 L414.20,249.19 L414.47,251.24 L414.73,253.28 L415.00,255.30 L415.27,257.31 L415.54,259.31 L415.81,261.30 L416.08,263.28 L416.35,265.24 L416.61,267.19 L416.88,269.12 L417.15,271.04 L417.42,272.94 L417.69,274.83 L417.96,276.70 L418.23,278.56 L418.49,280.40 L418.76,282.23 L419.03,284.03 L419.30,285.83 L419.57,287.60 L419.84,289.36 L420.11,291.10 L420.37,292.82 L420.64,294.52 L420.91,296.21 L421.18,297.87 L421.45,299.52 L421.72,301.15 L421.98,302.76 L422.25,304.36 L422.52,305.93 L422.79,307.48 L423.06,309.02 L423.33,310.53 L423.60,312.03 L423.86,313.51 L424.13,314.96 L424.40,316.40 L424.67,317.82 L424.94,319.22 L425.21,320.60 L425.48,321.96 L425.74,323.30 L426.01,324.62 L426.28,325.92 L426.55,327.20 L426.82,328.46 L427.09,329.71 L427.36,330.93 L427.62,332.13 L427.89,333.32 L428.16,334.48 L428.43,335.63 L428.70,336.76 L428.97,337.87 L429.24,338.96 L429.50,340.03 L429.77,341.08 L430.04,342.11 L430.31,343.13 L430.58,344.13 L430.85,345.11 L431.12,346.07 L431.38,347.01 L431.65,347.94 L431.92,348.85 L432.19,349.74 L432.46,350.62 L432.73,351.47 L433.00,352.31 L433.26,353.14 L433.53,353.95 L433.80,354.74 L434.07,355.51 L434.34,356.27 L434.61,357.01 L434.88,357.74 L435.14,358.45 L435.41,359.15 L435.68,359.83 L435.95,360.49 L436.22,361.15 L436.49,361.78 L436.76,362.40 L437.02,363.01 L437.29,363.61 L437.56,364.18 L437.83,364.75 L438.10,365.30 L438.37,365.84 L438.64,366.37 L438.90,366.88 L439.17,367.38 L439.44,367.87 L439.71,368.34 L439.98,368.81 L440.25,369.26 L440.52,369.70 L440.78,370.12 L441.05,370.54 L441.32,370.94 L441.59,371.34 L441.86,371.72 L442.13,372.09 L442.40,372.45 L442.66,372.80 L442.93,373.14 L443.20,373.47 L443.47,373.79 L443.74,374.10 L444.01,374.41 L444.28,374.70 L444.54,374.98 L444.81,375.26 L445.08,375.52 L445.35,375.78 L445.62,376.03 L445.89,376.27 L446.16,376.51 L446.42,376.73 L446.69,376.95 L446.96,377.16 L447.23,377.36 L447.50,377.56 L447.77,377.75 L448.04,377.93 L448.30,378.11 L448.57,378.28 L448.84,378.44 L449.11,378.60 L449.38,378.75 L449.65,378.90 L449.91,379.04 L450.18,379.17 L450.45,379.31 L450.72,379.43 L450.99,379.55 L451.26,379.67 L451.53,379.78 L451.79,379.88 L452.06,379.98 L452.33,380.08 L452.60,380.18 L452.87,380.27 L453.14,380.35 L453.41,380.43 L453.67,380.51 L453.94,380.59 L454.21,380.66 L454.48,380.73 L454.75,380.79 L455.02,380.86 L455.29,380.92 L455.55,380.97 L455.82,381.03 L456.09,381.08 L456.36,381.13 L456.63,381.18 L456.90,381.22 L457.17,381.26 L457.43,381.31 L457.70,381.34 L457.97,381.38 L458.24,381.42 L458.51,381.45 L458.78,381.48 L459.05,381.51 L459.31,381.54 L459.58,381.56 L459.85,381.59 L460.12,381.61 L460.39,381.64 L460.66,381.66 L460.93,381.68 L461.19,381.70 L461.46,381.72 L461.73,381.73 L462.00,381.75" fill="none" stroke="#e814ec" stroke-width="1.7" stroke-linejoin="round" stroke-linecap="butt"/>
<path d="M101.70,381.85 L102.11,381.85 L102.53,381.84 L102.94,381.84 L103.36,381.84 L103.77,381.83 L104.18,381.83 L104.60,381.82 L105.01,381.82 L105.43,381.81 L105.84,381.81 L106.25,381.80 L106.67,381.80 L107.08,381.79 L107.49,381.79 L107.91,381.78 L108.32,381.77 L108.74,381.77 L109.15,381.76 L109.56,381.76 L109.98,381.75 L110.39,381.74 L110.81,381.74 L111.22,381.73 L111.63,381.72 L112.05,381.72 L112.46,381.71 L112.88,381.70 L113.29,381.69 L113.70,381.69 L114.12,381.68 L114.53,381.67 L114.95,381.66 L115.36,381.65 L115.77,381.64 L116.19,381.63 L116.60,381.62 L117.02,381.61 L117.43,381.60 L117.84,381.59 L118.26,381.58 L118.67,381.57 L119.08,381.56 L119.50,381.55 L119.91,381.54 L120.33,381.52 L120.74,381.51 L121.15,381.50 L121.57,381.49 L121.98,381.47 L122.40,381.46 L122.81,381.44 L123.22,381.43 L123.64,381.41 L124.05,381.40 L124.47,381.38 L124.88,381.36 L125.29,381.35 L125.71,381.33 L126.12,381.31 L126.54,381.29 L126.95,381.27 L127.36,381.25 L127.78,381.23 L128.19,381.21 L128.61,381.18 L129.02,381.16 L129.43,381.14 L129.85,381.11 L130.26,381.09 L130.67,381.06 L131.09,381.03 L131.50,381.00 L131.92,380.97 L132.33,380.94 L132.74,380.91 L133.16,380.88 L133.57,380.84 L133.99,380.81 L134.40,380.77 L134.81,380.74 L135.23,380.70 L135.64,380.66 L136.06,380.62 L136.47,380.58 L136.88,380.53 L137.30,380.49 L137.71,380.44 L138.13,380.40 L138.54,380.35 L138.95,380.30 L139.37,380.25 L139.78,380.20 L140.20,380.15 L140.61,380.09 L141.02,380.04 L141.44,379.98 L141.85,379.92 L142.26,379.86 L142.68,379.80 L143.09,379.74 L143.51,379.68 L143.92,379.61 L144.33,379.55 L144.75,379.48 L145.16,379.42 L145.58,379.35 L145.99,379.28 L146.40,379.21 L146.82,379.14 L147.23,379.07 L147.65,379.00 L148.06,378.93 L148.47,378.86 L148.89,378.78 L149.30,378.71 L149.72,378.63 L150.13,378.56 L150.54,378.48 L150.96,378.41 L151.37,378.33 L151.79,378.26 L152.20,378.18 L152.61,378.10 L153.03,378.03 L153.44,377.95 L153.85,377.87 L154.27,377.80 L154.68,377.72 L155.10,377.64 L155.51,377.56 L155.92,377.48 L156.34,377.40 L156.75,377.32 L157.17,377.24 L157.58,377.16 L157.99,377.08 L158.41,377.00 L158.82,376.92 L159.24,376.84 L159.65,376.75 L160.06,376.67 L160.48,376.58 L160.89,376.49 L161.31,376.40 L161.72,376.31 L162.13,376.22 L162.55,376.13 L162.96,376.03 L163.38,375.93 L163.79,375.83 L164.20,375.73 L164.62,375.63 L165.03,375.52 L165.44,375.41 L165.86,375.30 L166.27,375.18 L166.69,375.07 L167.10,374.95 L167.51,374.82 L167.93,374.69 L168.34,374.56 L168.76,374.43 L169.17,374.29 L169.58,374.15 L170.00,374.01 L170.41,373.86 L170.83,373.71 L171.24,373.56 L171.65,373.40 L172.07,373.24 L172.48,373.08 L172.90,372.91 L173.31,372.74 L173.72,372.57 L174.14,372.39 L174.55,372.22 L174.97,372.04 L175.38,371.85 L175.79,371.67 L176.21,371.48 L176.62,371.29 L177.03,371.10 L177.45,370.91 L177.86,370.71 L178.28,370.52 L178.69,370.32 L179.10,370.13 L179.52,369.93 L179.93,369.73 L180.35,369.53 L180.76,369.34 L181.17,369.14 L181.59,368.94 L182.00,368.75 L182.42,368.55 L182.83,368.36 L183.24,368.16 L183.66,367.97 L184.07,367.78 L184.49,367.59 L184.90,367.40 L185.31,367.22 L185.73,367.03 L186.14,366.85 L186.56,366.67 L186.97,366.49 L187.38,366.32 L187.80,366.14 L188.21,365.97 L188.62,365.79 L189.04,365.62 L189.45,365.45 L189.87,365.29 L190.28,365.12 L190.69,364.95 L191.11,364.79 L191.52,364.62 L191.94,364.46 L192.35,364.29 L192.76,364.13 L193.18,363.96 L193.59,363.80 L194.01,363.63 L194.42,363.47 L194.83,363.30 L195.25,363.13 L195.66,362.96 L196.08,362.78 L196.49,362.61 L196.90,362.43 L197.32,362.25 L197.73,362.07 L198.15,361.88 L198.56,361.69 L198.97,361.50 L199.39,361.30 L199.80,361.10 L200.21,360.90 L200.63,360.69 L201.04,360.48 L201.46,360.26 L201.87,360.04 L202.28,359.81 L202.70,359.58 L203.11,359.35 L203.53,359.11 L203.94,358.87 L204.35,358.62 L204.77,358.37 L205.18,358.11 L205.60,357.85 L206.01,357.59 L206.42,357.32 L206.84,357.05 L207.25,356.78 L207.67,356.50 L208.08,356.22 L208.49,355.93 L208.91,355.64 L209.32,355.35 L209.74,355.06 L210.15,354.76 L210.56,354.47 L210.98,354.17 L211.39,353.87 L211.80,353.57 L212.22,353.26 L212.63,352.96 L213.05,352.66 L213.46,352.35 L213.87,352.05 L214.29,351.74 L214.70,351.44 L215.12,351.14 L215.53,350.84 L215.94,350.54 L216.36,350.24 L216.77,349.94 L217.19,349.65 L217.60,349.35 L218.01,349.06 L218.43,348.77 L218.84,348.49 L219.26,348.21 L219.67,347.93 L220.08,347.65 L220.50,347.37 L220.91,347.10 L221.33,346.83 L221.74,346.57 L222.15,346.31 L222.57,346.05 L222.98,345.80 L223.39,345.55 L223.81,345.30 L224.22,345.05 L224.64,344.81 L225.05,344.58 L225.46,344.34 L225.88,344.11 L226.29,343.88 L226.71,343.66 L227.12,343.44 L227.53,343.22 L227.95,343.00 L228.36,342.79 L228.78,342.58 L229.19,342.37 L229.60,342.17 L230.02,341.96 L230.43,341.76 L230.85,341.56 L231.26,341.36 L231.67,341.17 L232.09,340.97 L232.50,340.78 L232.92,340.59 L233.33,340.40 L233.74,340.21 L234.16,340.02 L234.57,339.83 L234.98,339.64 L235.40,339.45 L235.81,339.26 L236.23,339.07 L236.64,338.89 L237.05,338.70 L237.47,338.51 L237.88,338.32 L238.30,338.13 L238.71,337.94 L239.12,337.75 L239.54,337.55 L239.95,337.36 L240.37,337.17 L240.78,336.97 L241.19,336.77 L241.61,336.58 L242.02,336.38 L242.44,336.18 L242.85,335.97 L243.26,335.77 L243.68,335.57 L244.09,335.36 L244.51,335.15 L244.92,334.94 L245.33,334.73 L245.75,334.52 L246.16,334.31 L246.57,334.09 L246.99,333.88 L247.40,333.66 L247.82,333.44 L248.23,333.22 L248.64,333.00 L249.06,332.78 L249.47,332.56 L249.89,332.34 L250.30,332.11 L250.71,331.88 L251.13,331.66 L251.54,331.43 L251.96,331.20 L252.37,330.97 L252.78,330.75 L253.20,330.52 L253.61,330.29 L254.03,330.06 L254.44,329.82 L254.85,329.59 L255.27,329.36 L255.68,329.13 L256.10,328.90 L256.51,328.67 L256.92,328.44 L257.34,328.21 L257.75,327.98 L258.16,327.75 L258.58,327.52 L258.99,327.29 L259.41,327.07 L259.82,326.84 L260.23,326.61 L260.65,326.39 L261.06,326.16 L261.48,325.94 L261.89,325.72 L262.30,325.49 L262.72,325.27 L263.13,325.05 L263.55,324.84 L263.96,324.62 L264.37,324.40 L264.79,324.19 L265.20,323.98 L265.62,323.77 L266.03,323.56 L266.44,323.35 L266.86,323.15 L267.27,322.94 L267.69,322.74 L268.10,322.54 L268.51,322.34 L268.93,322.14 L269.34,321.95 L269.75,321.76 L270.17,321.57 L270.58,321.38 L271.00,321.19 L271.41,321.01 L271.82,320.83 L272.24,320.65 L272.65,320.47 L273.07,320.29 L273.48,320.12 L273.89,319.95 L274.31,319.78 L274.72,319.62 L275.14,319.46 L275.55,319.30 L275.96,319.14 L276.38,318.99 L276.79,318.83 L277.21,318.69 L277.62,318.54 L278.03,318.40 L278.45,318.26 L278.86,318.12 L279.28,317.99 L279.69,317.85 L280.10,317.73 L280.52,317.60 L280.93,317.48 L281.34,317.36 L281.76,317.25 L282.17,317.13 L282.59,317.03 L283.00,316.92 L283.41,316.82 L283.83,316.72 L284.24,316.62 L284.66,316.53 L285.07,316.44 L285.48,316.36 L285.90,316.28 L286.31,316.20 L286.73,316.12 L287.14,316.05 L287.55,315.99 L287.97,315.92 L288.38,315.86 L288.80,315.80 L289.21,315.75 L289.62,315.70 L290.04,315.66 L290.45,315.61 L290.87,315.58 L291.28,315.54 L291.69,315.51 L292.11,315.48 L292.52,315.46 L292.93,315.44 L293.35,315.42 L293.76,315.41 L294.18,315.40 L294.59,315.39 L295.00,315.39 L295.42,315.39 L295.83,315.39 L296.25,315.40 L296.66,315.41 L297.07,315.42 L297.49,315.44 L297.90,315.46 L298.32,315.48 L298.73,315.50 L299.14,315.53 L299.56,315.56 L299.97,315.60 L300.39,315.64 L300.80,315.68 L301.21,315.72 L301.63,315.76 L302.04,315.81 L302.46,315.86 L302.87,315.92 L303.28,315.97 L303.70,316.03 L304.11,316.09 L304.52,316.15 L304.94,316.21 L305.35,316.28 L305.77,316.35 L306.18,316.42 L306.59,316.49 L307.01,316.56 L307.42,316.64 L307.84,316.71 L308.25,316.79 L308.66,316.87 L309.08,316.95 L309.49,317.03 L309.91,317.12 L310.32,317.20 L310.73,317.28 L311.15,317.37 L311.56,317.46 L311.98,317.54 L312.39,317.63 L312.80,317.72 L313.22,317.81 L313.63,317.90 L314.05,317.99 L314.46,318.08 L314.87,318.17 L315.29,318.26 L315.70,318.35 L316.11,318.44 L316.53,318.53 L316.94,318.62 L317.36,318.71 L317.77,318.80 L318.18,318.88 L318.60,318.97 L319.01,319.06 L319.43,319.15 L319.84,319.24 L320.25,319.32 L320.67,319.41 L321.08,319.49 L321.50,319.58 L321.91,319.66 L322.32,319.74 L322.74,319.82 L323.15,319.90 L323.57,319.98 L323.98,320.06 L324.39,320.14 L324.81,320.21 L325.22,320.29 L325.64,320.36 L326.05,320.43 L326.46,320.50 L326.88,320.57 L327.29,320.63 L327.70,320.70 L328.12,320.76 L328.53,320.82 L328.95,320.88 L329.36,320.94 L329.77,321.00 L330.19,321.05 L330.60,321.11 L331.02,321.16 L331.43,321.21 L331.84,321.25 L332.26,321.30 L332.67,321.34 L333.09,321.38 L333.50,321.42 L333.91,321.45 L334.33,321.49 L334.74,321.52 L335.16,321.55 L335.57,321.58 L335.98,321.60 L336.40,321.62 L336.81,321.64 L337.23,321.66 L337.64,321.67 L338.05,321.69 L338.47,321.70 L338.88,321.70 L339.29,321.71 L339.71,321.71 L340.12,321.71 L340.54,321.70 L340.95,321.70 L341.36,321.69 L341.78,321.68 L342.19,321.66 L342.61,321.64 L343.02,321.62 L343.43,321.60 L343.85,321.57 L344.26,321.54 L344.68,321.51 L345.09,321.47 L345.50,321.43 L345.92,321.39 L346.33,321.35 L346.75,321.30 L347.16,321.25 L347.57,321.19 L347.99,321.14 L348.40,321.07 L348.82,321.01 L349.23,320.94 L349.64,320.87 L350.06,320.80 L350.47,320.72 L350.88,320.64 L351.30,320.55 L351.71,320.47 L352.13,320.38 L352.54,320.28 L352.95,320.18 L353.37,320.08 L353.78,319.98 L354.20,319.87 L354.61,319.76 L355.02,319.64 L355.44,319.52 L355.85,319.40 L356.27,319.28 L356.68,319.15 L357.09,319.01 L357.51,318.88 L357.92,318.74 L358.34,318.60 L358.75,318.45 L359.16,318.30 L359.58,318.14 L359.99,317.99 L360.41,317.82 L360.82,317.66 L361.23,317.49 L361.65,317.32 L362.06,317.14 L362.47,316.97 L362.89,316.78 L363.30,316.60 L363.72,316.41 L364.13,316.21 L364.54,316.02 L364.96,315.82 L365.37,315.61 L365.79,315.40 L366.20,315.19 L366.61,314.98 L367.03,314.76 L367.44,314.54 L367.86,314.31 L368.27,314.08 L368.68,313.85 L369.10,313.62 L369.51,313.38 L369.93,313.13 L370.34,312.89 L370.75,312.64 L371.17,312.38 L371.58,312.13 L372.00,311.87 L372.41,311.60 L372.82,311.33 L373.24,311.06 L373.65,310.79 L374.06,310.51 L374.48,310.23 L374.89,309.95 L375.31,309.66 L375.72,309.37 L376.13,309.07 L376.55,308.77 L376.96,308.47 L377.38,308.17 L377.79,307.86 L378.20,307.55 L378.62,307.23 L379.03,306.91 L379.45,306.59 L379.86,306.27 L380.27,305.94 L380.69,305.61 L381.10,305.27 L381.52,304.94 L381.93,304.59 L382.34,304.25 L382.76,303.90 L383.17,303.55 L383.59,303.20 L384.00,302.84 L384.41,302.48 L384.83,302.12 L385.24,301.75 L385.65,301.38 L386.07,301.01 L386.48,300.63 L386.90,300.25 L387.31,299.87 L387.72,299.48 L388.14,299.09 L388.55,298.70 L388.97,298.31 L389.38,297.91 L389.79,297.51 L390.21,297.10 L390.62,296.69 L391.04,296.28 L391.45,295.87 L391.86,295.45 L392.28,295.03 L392.69,294.61 L393.11,294.18 L393.52,293.76 L393.93,293.32 L394.35,292.89 L394.76,292.45 L395.18,292.01 L395.59,291.57 L396.00,291.12 L396.42,290.67 L396.83,290.22 L397.24,289.76 L397.66,289.31 L398.07,288.84 L398.49,288.38 L398.90,287.91 L399.31,287.44 L399.73,286.97 L400.14,286.50 L400.56,286.02 L400.97,285.54 L401.38,285.06 L401.80,284.57 L402.21,284.08 L402.63,283.59 L403.04,283.10 L403.45,282.60 L403.87,282.10 L404.28,281.60 L404.70,281.10 L405.11,280.59 L405.52,280.08 L405.94,279.57 L406.35,279.06 L406.77,278.54 L407.18,278.02 L407.59,277.50 L408.01,276.98 L408.42,276.45 L408.83,275.93 L409.25,275.40 L409.66,274.87 L410.08,274.34 L410.49,273.80 L410.90,273.27 L411.32,272.73 L411.73,272.19 L412.15,271.65 L412.56,271.10 L412.97,270.56 L413.39,270.01 L413.80,269.47 L414.22,268.92 L414.63,268.37 L415.04,267.82 L415.46,267.26 L415.87,266.71 L416.29,266.16 L416.70,265.60 L417.11,265.05 L417.53,264.49 L417.94,263.93 L418.36,263.38 L418.77,262.82 L419.18,262.26 L419.60,261.70 L420.01,261.14 L420.42,260.58 L420.84,260.02 L421.25,259.47 L421.67,258.91 L422.08,258.35 L422.49,257.79 L422.91,257.24 L423.32,256.68 L423.74,256.12 L424.15,255.57 L424.56,255.02 L424.98,254.46 L425.39,253.91 L425.81,253.36 L426.22,252.81 L426.63,252.27 L427.05,251.72 L427.46,251.18 L427.88,250.64 L428.29,250.10 L428.70,249.56 L429.12,249.03 L429.53,248.49 L429.95,247.96 L430.36,247.44 L430.77,246.91 L431.19,246.39 L431.60,245.87 L432.01,245.36 L432.43,244.85 L432.84,244.34 L433.26,243.83 L433.67,243.33 L434.08,242.83 L434.50,242.34 L434.91,241.85 L435.33,241.36 L435.74,240.88 L436.15,240.41 L436.57,239.93 L436.98,239.47 L437.40,239.00 L437.81,238.54 L438.22,238.09 L438.64,237.64 L439.05,237.20 L439.47,236.77 L439.88,236.33 L440.29,235.91 L440.71,235.49 L441.12,235.07 L441.54,234.67 L441.95,234.26 L442.36,233.87 L442.78,233.48 L443.19,233.10 L443.60,232.72 L444.02,232.35 L444.43,231.99 L444.85,231.63 L445.26,231.29 L445.67,230.94 L446.09,230.61 L446.50,230.28 L446.92,229.97 L447.33,229.66 L447.74,229.35 L448.16,229.06 L448.57,228.77 L448.99,228.49 L449.40,228.22 L449.81,227.96 L450.23,227.70 L450.64,227.46 L451.06,227.22 L451.47,226.99 L451.88,226.77 L452.30,226.56 L452.71,226.36 L453.13,226.17 L453.54,225.99 L453.95,225.82 L454.37,225.65 L454.78,225.50 L455.19,225.36 L455.61,225.22 L456.02,225.10 L456.44,224.98 L456.85,224.88 L457.26,224.79 L457.68,224.71 L458.09,224.63 L458.51,224.57 L458.92,224.52 L459.33,224.48 L459.75,224.45 L460.16,224.43 L460.58,224.43 L460.99,224.43 L461.40,224.45 L461.82,224.47 L462.23,224.51 L462.65,224.56 L463.06,224.62 L463.47,224.70 L463.89,224.78 L464.30,224.88 L464.72,224.99 L465.13,225.11 L465.54,225.25 L465.96,225.39 L466.37,225.55 L466.78,225.72 L467.20,225.91 L467.61,226.10 L468.03,226.31 L468.44,226.54 L468.85,226.77 L469.27,227.02 L469.68,227.28 L470.10,227.55 L470.51,227.84 L470.92,228.14 L471.34,228.45 L471.75,228.78 L472.17,229.12 L472.58,229.47 L472.99,229.84 L473.41,230.22 L473.82,230.61 L474.24,231.02 L474.65,231.44 L475.06,231.87 L475.48,232.32 L475.89,232.77 L476.31,233.25 L476.72,233.73 L477.13,234.23 L477.55,234.74 L477.96,235.27 L478.37,235.81 L478.79,236.36 L479.20,236.92 L479.62,237.50 L480.03,238.09 L480.44,238.69 L480.86,239.30 L481.27,239.93 L481.69,240.57 L482.10,241.22 L482.51,241.88 L482.93,242.55 L483.34,243.24 L483.76,243.93 L484.17,244.64 L484.58,245.36 L485.00,246.09 L485.41,246.83 L485.83,247.58 L486.24,248.34 L486.65,249.10 L487.07,249.88 L487.48,250.67 L487.90,251.46 L488.31,252.27 L488.72,253.08 L489.14,253.90 L489.55,254.73 L489.96,255.56 L490.38,256.40 L490.79,257.25 L491.21,258.11 L491.62,258.97 L492.03,259.83 L492.45,260.70 L492.86,261.58 L493.28,262.46 L493.69,263.34 L494.10,264.23 L494.52,265.13 L494.93,266.02 L495.35,266.92 L495.76,267.82 L496.17,268.73 L496.59,269.63 L497.00,270.54 L497.42,271.45 L497.83,272.37 L498.24,273.28 L498.66,274.19 L499.07,275.11 L499.49,276.03 L499.90,276.94 L500.31,277.86 L500.73,278.78 L501.14,279.70 L501.55,280.62 L501.97,281.54 L502.38,282.46 L502.80,283.38 L503.21,284.30 L503.62,285.22 L504.04,286.14 L504.45,287.06 L504.87,287.98 L505.28,288.90 L505.69,289.82 L506.11,290.75 L506.52,291.67 L506.94,292.59 L507.35,293.52 L507.76,294.44 L508.18,295.37 L508.59,296.30 L509.01,297.23 L509.42,298.16 L509.83,299.09 L510.25,300.02 L510.66,300.95 L511.08,301.89 L511.49,302.83 L511.90,303.76 L512.32,304.70 L512.73,305.64 L513.14,306.59 L513.56,307.53 L513.97,308.48 L514.39,309.42 L514.80,310.37 L515.21,311.31 L515.63,312.26 L516.04,313.21 L516.46,314.16 L516.87,315.10 L517.28,316.05 L517.70,317.00 L518.11,317.94 L518.53,318.88 L518.94,319.83 L519.35,320.76 L519.77,321.70 L520.18,322.63 L520.60,323.56 L521.01,324.48 L521.42,325.40 L521.84,326.32 L522.25,327.23 L522.67,328.13 L523.08,329.03 L523.49,329.92 L523.91,330.80 L524.32,331.67 L524.73,332.54 L525.15,333.39 L525.56,334.24 L525.98,335.08 L526.39,335.91 L526.80,336.73 L527.22,337.53 L527.63,338.33 L528.05,339.11 L528.46,339.89 L528.87,340.65 L529.29,341.40 L529.70,342.14 L530.12,342.86 L530.53,343.58 L530.94,344.28 L531.36,344.97 L531.77,345.65 L532.19,346.31 L532.60,346.96 L533.01,347.60 L533.43,348.23 L533.84,348.85 L534.26,349.45 L534.67,350.05 L535.08,350.63 L535.50,351.20 L535.91,351.76 L536.32,352.31 L536.74,352.85 L537.15,353.38 L537.57,353.90 L537.98,354.41 L538.39,354.91 L538.81,355.41 L539.22,355.89 L539.64,356.37 L540.05,356.84 L540.46,357.30 L540.88,357.75 L541.29,358.20 L541.71,358.64 L542.12,359.08 L542.53,359.51 L542.95,359.93 L543.36,360.35 L543.78,360.76 L544.19,361.17 L544.60,361.57 L545.02,361.96 L545.43,362.36 L545.85,362.75 L546.26,363.13 L546.67,363.51 L547.09,363.89 L547.50,364.26 L547.91,364.62 L548.33,364.99 L548.74,365.35 L549.16,365.70 L549.57,366.05 L549.98,366.40 L550.40,366.74 L550.81,367.08 L551.23,367.42 L551.64,367.75 L552.05,368.08 L552.47,368.40 L552.88,368.72 L553.30,369.03 L553.71,369.34 L554.12,369.64 L554.54,369.94 L554.95,370.24 L555.37,370.53 L555.78,370.81 L556.19,371.09 L556.61,371.37 L557.02,371.64 L557.44,371.90 L557.85,372.16 L558.26,372.42 L558.68,372.67 L559.09,372.91 L559.50,373.15 L559.92,373.38 L560.33,373.61 L560.75,373.83 L561.16,374.05 L561.57,374.26 L561.99,374.47 L562.40,374.67 L562.82,374.86 L563.23,375.06 L563.64,375.24 L564.06,375.42 L564.47,375.60 L564.89,375.77 L565.30,375.94 L565.71,376.10 L566.13,376.25 L566.54,376.41 L566.96,376.55 L567.37,376.70 L567.78,376.84 L568.20,376.97 L568.61,377.10 L569.03,377.23 L569.44,377.35 L569.85,377.47 L570.27,377.59 L570.68,377.70 L571.09,377.81 L571.51,377.92 L571.92,378.02 L572.34,378.12 L572.75,378.22 L573.16,378.31 L573.58,378.40 L573.99,378.49 L574.41,378.58 L574.82,378.66 L575.23,378.74 L575.65,378.82 L576.06,378.89 L576.48,378.97 L576.89,379.04 L577.30,379.11 L577.72,379.18 L578.13,379.25 L578.55,379.31 L578.96,379.37 L579.37,379.43 L579.79,379.49 L580.20,379.55 L580.62,379.61 L581.03,379.66 L581.44,379.72 L581.86,379.77 L582.27,379.82 L582.68,379.87 L583.10,379.92 L583.51,379.97 L583.93,380.01 L584.34,380.06 L584.75,380.10 L585.17,380.15 L585.58,380.19 L586.00,380.23 L586.41,380.27 L586.82,380.31 L587.24,380.35 L587.65,380.39 L588.07,380.42 L588.48,380.46 L588.89,380.49 L589.31,380.53 L589.72,380.56 L590.14,380.60 L590.55,380.63 L590.96,380.66 L591.38,380.69 L591.79,380.72 L592.21,380.75 L592.62,380.78 L593.03,380.81 L593.45,380.83 L593.86,380.86 L594.27,380.89 L594.69,380.91 L595.10,380.94 L595.52,380.96 L595.93,380.99 L596.34,381.01 L596.76,381.03 L597.17,381.06 L597.59,381.08 L598.00,381.10" fill="none" stroke="#f0a628" stroke-width="1.7" stroke-linejoin="round" stroke-linecap="butt"/>
<path d="M72.40,381.77 L72.79,381.77 L73.18,381.77 L73.56,381.76 L73.95,381.76 L74.34,381.76 L74.73,381.76 L75.12,381.76 L75.50,381.75 L75.89,381.75 L76.28,381.75 L76.67,381.75 L77.06,381.75 L77.44,381.75 L77.83,381.74 L78.22,381.74 L78.61,381.74 L79.00,381.74 L79.39,381.74 L79.77,381.73 L80.16,381.73 L80.55,381.73 L80.94,381.73 L81.33,381.72 L81.71,381.72 L82.10,381.72 L82.49,381.71 L82.88,381.71 L83.27,381.71 L83.65,381.70 L84.04,381.70 L84.43,381.69 L84.82,381.69 L85.21,381.68 L85.59,381.67 L85.98,381.67 L86.37,381.66 L86.76,381.65 L87.15,381.64 L87.53,381.63 L87.92,381.62 L88.31,381.61 L88.70,381.60 L89.09,381.59 L89.48,381.58 L89.86,381.57 L90.25,381.55 L90.64,381.54 L91.03,381.52 L91.42,381.51 L91.80,381.49 L92.19,381.47 L92.58,381.45 L92.97,381.43 L93.36,381.41 L93.74,381.39 L94.13,381.36 L94.52,381.34 L94.91,381.32 L95.30,381.29 L95.68,381.26 L96.07,381.23 L96.46,381.20 L96.85,381.17 L97.24,381.14 L97.62,381.10 L98.01,381.07 L98.40,381.03 L98.79,380.99 L99.18,380.95 L99.57,380.91 L99.95,380.87 L100.34,380.83 L100.73,380.78 L101.12,380.73 L101.51,380.68 L101.89,380.63 L102.28,380.58 L102.67,380.53 L103.06,380.47 L103.45,380.41 L103.83,380.35 L104.22,380.29 L104.61,380.23 L105.00,380.16 L105.39,380.10 L105.77,380.03 L106.16,379.96 L106.55,379.88 L106.94,379.81 L107.33,379.73 L107.71,379.65 L108.10,379.57 L108.49,379.49 L108.88,379.40 L109.27,379.32 L109.66,379.23 L110.04,379.13 L110.43,379.04 L110.82,378.94 L111.21,378.84 L111.60,378.74 L111.98,378.64 L112.37,378.53 L112.76,378.42 L113.15,378.31 L113.54,378.20 L113.92,378.08 L114.31,377.97 L114.70,377.85 L115.09,377.72 L115.48,377.60 L115.86,377.47 L116.25,377.34 L116.64,377.21 L117.03,377.07 L117.42,376.94 L117.80,376.80 L118.19,376.65 L118.58,376.51 L118.97,376.36 L119.36,376.21 L119.74,376.06 L120.13,375.91 L120.52,375.75 L120.91,375.60 L121.30,375.43 L121.69,375.27 L122.07,375.11 L122.46,374.94 L122.85,374.77 L123.24,374.60 L123.63,374.43 L124.01,374.25 L124.40,374.07 L124.79,373.89 L125.18,373.71 L125.57,373.53 L125.95,373.34 L126.34,373.15 L126.73,372.97 L127.12,372.77 L127.51,372.58 L127.89,372.39 L128.28,372.19 L128.67,371.99 L129.06,371.80 L129.45,371.60 L129.83,371.39 L130.22,371.19 L130.61,370.99 L131.00,370.78 L131.39,370.58 L131.78,370.37 L132.16,370.16 L132.55,369.95 L132.94,369.74 L133.33,369.53 L133.72,369.31 L134.10,369.10 L134.49,368.89 L134.88,368.67 L135.27,368.46 L135.66,368.24 L136.04,368.03 L136.43,367.81 L136.82,367.60 L137.21,367.38 L137.60,367.16 L137.98,366.95 L138.37,366.73 L138.76,366.51 L139.15,366.30 L139.54,366.08 L139.92,365.86 L140.31,365.65 L140.70,365.43 L141.09,365.22 L141.48,365.00 L141.87,364.79 L142.25,364.57 L142.64,364.36 L143.03,364.15 L143.42,363.94 L143.81,363.73 L144.19,363.52 L144.58,363.31 L144.97,363.10 L145.36,362.89 L145.75,362.69 L146.13,362.48 L146.52,362.28 L146.91,362.08 L147.30,361.88 L147.69,361.68 L148.07,361.48 L148.46,361.28 L148.85,361.09 L149.24,360.89 L149.63,360.70 L150.01,360.51 L150.40,360.32 L150.79,360.13 L151.18,359.94 L151.57,359.76 L151.96,359.58 L152.34,359.40 L152.73,359.22 L153.12,359.04 L153.51,358.87 L153.90,358.69 L154.28,358.52 L154.67,358.35 L155.06,358.19 L155.45,358.02 L155.84,357.86 L156.22,357.70 L156.61,357.54 L157.00,357.38 L157.39,357.22 L157.78,357.07 L158.16,356.92 L158.55,356.77 L158.94,356.62 L159.33,356.48 L159.72,356.34 L160.10,356.20 L160.49,356.06 L160.88,355.93 L161.27,355.79 L161.66,355.66 L162.04,355.53 L162.43,355.41 L162.82,355.28 L163.21,355.16 L163.60,355.04 L163.99,354.92 L164.37,354.81 L164.76,354.69 L165.15,354.58 L165.54,354.47 L165.93,354.37 L166.31,354.26 L166.70,354.16 L167.09,354.06 L167.48,353.96 L167.87,353.87 L168.25,353.78 L168.64,353.68 L169.03,353.59 L169.42,353.51 L169.81,353.42 L170.19,353.34 L170.58,353.26 L170.97,353.18 L171.36,353.10 L171.75,353.03 L172.13,352.96 L172.52,352.88 L172.91,352.82 L173.30,352.75 L173.69,352.68 L174.08,352.62 L174.46,352.56 L174.85,352.50 L175.24,352.44 L175.63,352.38 L176.02,352.32 L176.40,352.27 L176.79,352.22 L177.18,352.17 L177.57,352.12 L177.96,352.07 L178.34,352.02 L178.73,351.97 L179.12,351.93 L179.51,351.89 L179.90,351.84 L180.28,351.80 L180.67,351.76 L181.06,351.72 L181.45,351.68 L181.84,351.64 L182.22,351.60 L182.61,351.57 L183.00,351.53 L183.39,351.49 L183.78,351.46 L184.17,351.42 L184.55,351.39 L184.94,351.35 L185.33,351.32 L185.72,351.28 L186.11,351.25 L186.49,351.21 L186.88,351.18 L187.27,351.14 L187.66,351.10 L188.05,351.07 L188.43,351.03 L188.82,350.99 L189.21,350.96 L189.60,350.92 L189.99,350.88 L190.37,350.84 L190.76,350.79 L191.15,350.75 L191.54,350.71 L191.93,350.66 L192.31,350.62 L192.70,350.57 L193.09,350.52 L193.48,350.47 L193.87,350.42 L194.26,350.36 L194.64,350.31 L195.03,350.25 L195.42,350.19 L195.81,350.13 L196.20,350.06 L196.58,350.00 L196.97,349.93 L197.36,349.86 L197.75,349.79 L198.14,349.71 L198.52,349.64 L198.91,349.56 L199.30,349.47 L199.69,349.39 L200.08,349.30 L200.46,349.21 L200.85,349.11 L201.24,349.02 L201.63,348.92 L202.02,348.82 L202.40,348.71 L202.79,348.60 L203.18,348.49 L203.57,348.37 L203.96,348.26 L204.34,348.13 L204.73,348.01 L205.12,347.88 L205.51,347.75 L205.90,347.61 L206.29,347.47 L206.67,347.33 L207.06,347.19 L207.45,347.04 L207.84,346.88 L208.23,346.73 L208.61,346.57 L209.00,346.40 L209.39,346.23 L209.78,346.06 L210.17,345.89 L210.55,345.71 L210.94,345.53 L211.33,345.34 L211.72,345.15 L212.11,344.95 L212.49,344.75 L212.88,344.55 L213.27,344.35 L213.66,344.14 L214.05,343.92 L214.43,343.71 L214.82,343.49 L215.21,343.26 L215.60,343.03 L215.99,342.80 L216.38,342.56 L216.76,342.32 L217.15,342.08 L217.54,341.83 L217.93,341.58 L218.32,341.32 L218.70,341.07 L219.09,340.80 L219.48,340.54 L219.87,340.27 L220.26,340.00 L220.64,339.72 L221.03,339.44 L221.42,339.16 L221.81,338.87 L222.20,338.58 L222.58,338.29 L222.97,337.99 L223.36,337.69 L223.75,337.39 L224.14,337.08 L224.52,336.77 L224.91,336.46 L225.30,336.15 L225.69,335.83 L226.08,335.51 L226.47,335.19 L226.85,334.86 L227.24,334.54 L227.63,334.21 L228.02,333.87 L228.41,333.54 L228.79,333.20 L229.18,332.86 L229.57,332.52 L229.96,332.18 L230.35,331.84 L230.73,331.49 L231.12,331.15 L231.51,330.80 L231.90,330.45 L232.29,330.10 L232.67,329.75 L233.06,329.39 L233.45,329.04 L233.84,328.69 L234.23,328.33 L234.61,327.98 L235.00,327.62 L235.39,327.27 L235.78,326.91 L236.17,326.56 L236.56,326.21 L236.94,325.85 L237.33,325.50 L237.72,325.15 L238.11,324.80 L238.50,324.45 L238.88,324.10 L239.27,323.75 L239.66,323.41 L240.05,323.07 L240.44,322.73 L240.82,322.39 L241.21,322.05 L241.60,321.72 L241.99,321.38 L242.38,321.06 L242.76,320.73 L243.15,320.41 L243.54,320.09 L243.93,319.77 L244.32,319.46 L244.70,319.15 L245.09,318.85 L245.48,318.55 L245.87,318.25 L246.26,317.96 L246.64,317.67 L247.03,317.39 L247.42,317.11 L247.81,316.84 L248.20,316.57 L248.59,316.31 L248.97,316.05 L249.36,315.80 L249.75,315.55 L250.14,315.31 L250.53,315.08 L250.91,314.85 L251.30,314.62 L251.69,314.40 L252.08,314.19 L252.47,313.99 L252.85,313.79 L253.24,313.59 L253.63,313.41 L254.02,313.22 L254.41,313.05 L254.79,312.88 L255.18,312.72 L255.57,312.56 L255.96,312.42 L256.35,312.27 L256.73,312.14 L257.12,312.01 L257.51,311.89 L257.90,311.77 L258.29,311.66 L258.68,311.56 L259.06,311.46 L259.45,311.37 L259.84,311.29 L260.23,311.21 L260.62,311.14 L261.00,311.07 L261.39,311.01 L261.78,310.96 L262.17,310.91 L262.56,310.87 L262.94,310.84 L263.33,310.81 L263.72,310.79 L264.11,310.77 L264.50,310.76 L264.88,310.76 L265.27,310.76 L265.66,310.77 L266.05,310.78 L266.44,310.80 L266.82,310.82 L267.21,310.85 L267.60,310.88 L267.99,310.92 L268.38,310.96 L268.77,311.01 L269.15,311.06 L269.54,311.12 L269.93,311.18 L270.32,311.25 L270.71,311.32 L271.09,311.40 L271.48,311.48 L271.87,311.57 L272.26,311.66 L272.65,311.75 L273.03,311.85 L273.42,311.95 L273.81,312.05 L274.20,312.16 L274.59,312.27 L274.97,312.39 L275.36,312.51 L275.75,312.63 L276.14,312.76 L276.53,312.89 L276.91,313.02 L277.30,313.16 L277.69,313.30 L278.08,313.44 L278.47,313.59 L278.86,313.74 L279.24,313.89 L279.63,314.04 L280.02,314.20 L280.41,314.35 L280.80,314.52 L281.18,314.68 L281.57,314.84 L281.96,315.01 L282.35,315.18 L282.74,315.35 L283.12,315.52 L283.51,315.70 L283.90,315.88 L284.29,316.05 L284.68,316.23 L285.06,316.41 L285.45,316.59 L285.84,316.78 L286.23,316.96 L286.62,317.14 L287.00,317.33 L287.39,317.51 L287.78,317.70 L288.17,317.88 L288.56,318.07 L288.94,318.25 L289.33,318.44 L289.72,318.62 L290.11,318.81 L290.50,318.99 L290.89,319.17 L291.27,319.35 L291.66,319.53 L292.05,319.70 L292.44,319.88 L292.83,320.05 L293.21,320.22 L293.60,320.39 L293.99,320.55 L294.38,320.71 L294.77,320.87 L295.15,321.02 L295.54,321.17 L295.93,321.31 L296.32,321.45 L296.71,321.58 L297.09,321.71 L297.48,321.83 L297.87,321.95 L298.26,322.06 L298.65,322.16 L299.03,322.26 L299.42,322.35 L299.81,322.43 L300.20,322.50 L300.59,322.56 L300.98,322.62 L301.36,322.66 L301.75,322.70 L302.14,322.72 L302.53,322.73 L302.92,322.74 L303.30,322.73 L303.69,322.71 L304.08,322.67 L304.47,322.63 L304.86,322.57 L305.24,322.50 L305.63,322.41 L306.02,322.31 L306.41,322.20 L306.80,322.07 L307.18,321.93 L307.57,321.77 L307.96,321.59 L308.35,321.40 L308.74,321.19 L309.12,320.97 L309.51,320.73 L309.90,320.47 L310.29,320.20 L310.68,319.91 L311.07,319.60 L311.45,319.27 L311.84,318.92 L312.23,318.56 L312.62,318.18 L313.01,317.78 L313.39,317.36 L313.78,316.92 L314.17,316.47 L314.56,316.00 L314.95,315.50 L315.33,314.99 L315.72,314.47 L316.11,313.92 L316.50,313.35 L316.89,312.77 L317.27,312.17 L317.66,311.55 L318.05,310.91 L318.44,310.26 L318.83,309.59 L319.21,308.90 L319.60,308.19 L319.99,307.46 L320.38,306.72 L320.77,305.96 L321.16,305.19 L321.54,304.39 L321.93,303.59 L322.32,302.76 L322.71,301.92 L323.10,301.06 L323.48,300.19 L323.87,299.30 L324.26,298.39 L324.65,297.47 L325.04,296.53 L325.42,295.58 L325.81,294.61 L326.20,293.63 L326.59,292.63 L326.98,291.62 L327.36,290.59 L327.75,289.54 L328.14,288.48 L328.53,287.41 L328.92,286.31 L329.30,285.21 L329.69,284.08 L330.08,282.95 L330.47,281.79 L330.86,280.62 L331.24,279.43 L331.63,278.23 L332.02,277.01 L332.41,275.78 L332.80,274.53 L333.19,273.26 L333.57,271.97 L333.96,270.67 L334.35,269.36 L334.74,268.02 L335.13,266.67 L335.51,265.30 L335.90,263.92 L336.29,262.52 L336.68,261.10 L337.07,259.66 L337.45,258.21 L337.84,256.74 L338.23,255.25 L338.62,253.75 L339.01,252.23 L339.39,250.70 L339.78,249.14 L340.17,247.58 L340.56,245.99 L340.95,244.39 L341.33,242.78 L341.72,241.15 L342.11,239.51 L342.50,237.85 L342.89,236.18 L343.28,234.50 L343.66,232.80 L344.05,231.10 L344.44,229.37 L344.83,227.64 L345.22,225.90 L345.60,224.15 L345.99,222.39 L346.38,220.62 L346.77,218.84 L347.16,217.05 L347.54,215.26 L347.93,213.46 L348.32,211.66 L348.71,209.85 L349.10,208.04 L349.48,206.22 L349.87,204.41 L350.26,202.59 L350.65,200.77 L351.04,198.94 L351.42,197.12 L351.81,195.31 L352.20,193.49 L352.59,191.67 L352.98,189.86 L353.37,188.06 L353.75,186.26 L354.14,184.46 L354.53,182.67 L354.92,180.89 L355.31,179.12 L355.69,177.35 L356.08,175.60 L356.47,173.85 L356.86,172.12 L357.25,170.39 L357.63,168.68 L358.02,166.98 L358.41,165.29 L358.80,163.62 L359.19,161.96 L359.57,160.31 L359.96,158.68 L360.35,157.06 L360.74,155.46 L361.13,153.88 L361.51,152.31 L361.90,150.75 L362.29,149.22 L362.68,147.70 L363.07,146.20 L363.46,144.72 L363.84,143.25 L364.23,141.80 L364.62,140.37 L365.01,138.96 L365.40,137.57 L365.78,136.19 L366.17,134.84 L366.56,133.50 L366.95,132.18 L367.34,130.88 L367.72,129.60 L368.11,128.34 L368.50,127.09 L368.89,125.87 L369.28,124.66 L369.66,123.47 L370.05,122.30 L370.44,121.15 L370.83,120.01 L371.22,118.89 L371.60,117.79 L371.99,116.71 L372.38,115.64 L372.77,114.59 L373.16,113.55 L373.54,112.54 L373.93,111.53 L374.32,110.55 L374.71,109.57 L375.10,108.62 L375.49,107.67 L375.87,106.74 L376.26,105.83 L376.65,104.93 L377.04,104.04 L377.43,103.17 L377.81,102.30 L378.20,101.45 L378.59,100.61 L378.98,99.79 L379.37,98.97 L379.75,98.16 L380.14,97.37 L380.53,96.58 L380.92,95.81 L381.31,95.04 L381.69,94.28 L382.08,93.53 L382.47,92.79 L382.86,92.06 L383.25,91.33 L383.63,90.62 L384.02,89.90 L384.41,89.20 L384.80,88.50 L385.19,87.81 L385.58,87.12 L385.96,86.44 L386.35,85.76 L386.74,85.09 L387.13,84.42 L387.52,83.76 L387.90,83.10 L388.29,82.45 L388.68,81.80 L389.07,81.15 L389.46,80.50 L389.84,79.86 L390.23,79.22 L390.62,78.58 L391.01,77.95 L391.40,77.32 L391.78,76.69 L392.17,76.06 L392.56,75.43 L392.95,74.81 L393.34,74.18 L393.72,73.56 L394.11,72.94 L394.50,72.32 L394.89,71.70 L395.28,71.09 L395.67,70.47 L396.05,69.85 L396.44,69.24 L396.83,68.62 L397.22,68.01 L397.61,67.40 L397.99,66.79 L398.38,66.18 L398.77,65.57 L399.16,64.96 L399.55,64.35 L399.93,63.74 L400.32,63.13 L400.71,62.52 L401.10,61.91 L401.49,61.31 L401.87,60.70 L402.26,60.09 L402.65,59.49 L403.04,58.88 L403.43,58.28 L403.81,57.68 L404.20,57.07 L404.59,56.47 L404.98,55.87 L405.37,55.27 L405.76,54.67 L406.14,54.07 L406.53,53.47 L406.92,52.87 L407.31,52.27 L407.70,51.67 L408.08,51.08 L408.47,50.48 L408.86,49.89 L409.25,49.29 L409.64,48.70 L410.02,48.10 L410.41,47.51 L410.80,46.92 L411.19,46.33 L411.58,45.74 L411.96,45.15 L412.35,44.56 L412.74,43.97 L413.13,43.38 L413.52,42.80 L413.90,42.21 L414.29,41.63 L414.68,41.05 L415.07,40.46 L415.46,39.88 L415.84,39.30 L416.23,38.72 L416.62,38.15 L417.01,37.57 L417.40,37.00 L417.79,36.43 L418.17,35.86 L418.56,35.29 L418.95,34.73 L419.34,34.17 L419.73,33.61 L420.11,33.05 L420.50,32.50 L420.89,31.96 L421.28,31.41 L421.67,30.87 L422.05,30.34 L422.44,29.81 L422.83,29.29 L423.22,28.78 L423.61,28.27 L423.99,27.77 L424.38,27.27 L424.77,26.79 L425.16,26.32 L425.55,25.85 L425.93,25.40 L426.32,24.96 L426.71,24.52 L427.10,24.11 L427.49,23.70 L427.88,23.31 L428.26,22.94 L428.65,22.58 L429.04,22.24 L429.43,21.92 L429.82,21.61 L430.20,21.33 L430.59,21.06 L430.98,20.82 L431.37,20.60 L431.76,20.40 L432.14,20.23 L432.53,20.08 L432.92,19.96 L433.31,19.86 L433.70,19.79 L434.08,19.75 L434.47,19.74 L434.86,19.76 L435.25,19.82 L435.64,19.90 L436.02,20.02 L436.41,20.17 L436.80,20.36 L437.19,20.58 L437.58,20.83 L437.97,21.13 L438.35,21.46 L438.74,21.82 L439.13,22.23 L439.52,22.67 L439.91,23.16 L440.29,23.68 L440.68,24.24 L441.07,24.85 L441.46,25.49 L441.85,26.18 L442.23,26.90 L442.62,27.67 L443.01,28.48 L443.40,29.33 L443.79,30.22 L444.17,31.16 L444.56,32.13 L444.95,33.15 L445.34,34.21 L445.73,35.31 L446.11,36.45 L446.50,37.63 L446.89,38.85 L447.28,40.11 L447.67,41.42 L448.06,42.76 L448.44,44.14 L448.83,45.56 L449.22,47.02 L449.61,48.52 L450.00,50.06 L450.38,51.63 L450.77,53.24 L451.16,54.89 L451.55,56.57 L451.94,58.29 L452.32,60.04 L452.71,61.83 L453.10,63.66 L453.49,65.51 L453.88,67.40 L454.26,69.32 L454.65,71.28 L455.04,73.26 L455.43,75.28 L455.82,77.32 L456.20,79.40 L456.59,81.50 L456.98,83.63 L457.37,85.80 L457.76,87.98 L458.14,90.20 L458.53,92.44 L458.92,94.71 L459.31,97.00 L459.70,99.31 L460.09,101.65 L460.47,104.01 L460.86,106.40 L461.25,108.80 L461.64,111.23 L462.03,113.68 L462.41,116.14 L462.80,118.63 L463.19,121.13 L463.58,123.66 L463.97,126.20 L464.35,128.75 L464.74,131.32 L465.13,133.91 L465.52,136.51 L465.91,139.12 L466.29,141.75 L466.68,144.39 L467.07,147.04 L467.46,149.70 L467.85,152.37 L468.23,155.05 L468.62,157.73 L469.01,160.43 L469.40,163.13 L469.79,165.83 L470.18,168.54 L470.56,171.26 L470.95,173.98 L471.34,176.70 L471.73,179.42 L472.12,182.14 L472.50,184.87 L472.89,187.59 L473.28,190.31 L473.67,193.03 L474.06,195.74 L474.44,198.45 L474.83,201.16 L475.22,203.86 L475.61,206.55 L476.00,209.24 L476.38,211.92 L476.77,214.58 L477.16,217.24 L477.55,219.89 L477.94,222.53 L478.32,225.15 L478.71,227.77 L479.10,230.36 L479.49,232.95 L479.88,235.52 L480.27,238.07 L480.65,240.61 L481.04,243.13 L481.43,245.63 L481.82,248.12 L482.21,250.59 L482.59,253.03 L482.98,255.46 L483.37,257.86 L483.76,260.25 L484.15,262.61 L484.53,264.95 L484.92,267.27 L485.31,269.57 L485.70,271.84 L486.09,274.09 L486.47,276.31 L486.86,278.51 L487.25,280.69 L487.64,282.84 L488.03,284.96 L488.41,287.06 L488.80,289.13 L489.19,291.17 L489.58,293.19 L489.97,295.18 L490.36,297.14 L490.74,299.08 L491.13,300.99 L491.52,302.87 L491.91,304.72 L492.30,306.54 L492.68,308.34 L493.07,310.11 L493.46,311.85 L493.85,313.56 L494.24,315.25 L494.62,316.90 L495.01,318.53 L495.40,320.13 L495.79,321.70 L496.18,323.24 L496.56,324.76 L496.95,326.25 L497.34,327.71 L497.73,329.14 L498.12,330.55 L498.50,331.92 L498.89,333.27 L499.28,334.60 L499.67,335.89 L500.06,337.17 L500.44,338.41 L500.83,339.63 L501.22,340.82 L501.61,341.99 L502.00,343.13 L502.39,344.24 L502.77,345.34 L503.16,346.40 L503.55,347.44 L503.94,348.46 L504.33,349.46 L504.71,350.43 L505.10,351.38 L505.49,352.30 L505.88,353.21 L506.27,354.09 L506.65,354.95 L507.04,355.79 L507.43,356.60 L507.82,357.40 L508.21,358.17 L508.59,358.93 L508.98,359.66 L509.37,360.38 L509.76,361.08 L510.15,361.76 L510.53,362.42 L510.92,363.06 L511.31,363.68 L511.70,364.29 L512.09,364.88 L512.48,365.45 L512.86,366.01 L513.25,366.55 L513.64,367.07 L514.03,367.58 L514.42,368.08 L514.80,368.56 L515.19,369.03 L515.58,369.48 L515.97,369.92 L516.36,370.34 L516.74,370.75 L517.13,371.15 L517.52,371.54 L517.91,371.91 L518.30,372.28 L518.68,372.63 L519.07,372.97 L519.46,373.30 L519.85,373.61 L520.24,373.92 L520.62,374.22 L521.01,374.51 L521.40,374.79 L521.79,375.06 L522.18,375.32 L522.57,375.57 L522.95,375.81 L523.34,376.05 L523.73,376.27 L524.12,376.49 L524.51,376.70 L524.89,376.91 L525.28,377.10 L525.67,377.29 L526.06,377.47 L526.45,377.65 L526.83,377.82 L527.22,377.99 L527.61,378.14 L528.00,378.30 L528.39,378.44 L528.77,378.58 L529.16,378.72 L529.55,378.85 L529.94,378.98 L530.33,379.10 L530.71,379.22 L531.10,379.33 L531.49,379.44 L531.88,379.54 L532.27,379.64 L532.66,379.74 L533.04,379.83 L533.43,379.92 L533.82,380.01 L534.21,380.09 L534.60,380.17 L534.98,380.24 L535.37,380.32 L535.76,380.39 L536.15,380.45 L536.54,380.52 L536.92,380.58 L537.31,380.64 L537.70,380.70" fill="none" stroke="#1d3d4f" stroke-width="1.7" stroke-linejoin="round" stroke-linecap="butt"/>
<rect x="43.6" y="1.7" width="638.80" height="380.50" fill="none" stroke="#2b2b2b" stroke-width="1.0"/>
<line x1="125.78" y1="382.2" x2="125.78" y2="386.00" stroke="#2b2b2b" stroke-width="1.0"/>
<text x="125.78" y="399.1" text-anchor="middle" textLength="33.1" lengthAdjust="spacingAndGlyphs">−0.75</text>
<line x1="210.75" y1="382.2" x2="210.75" y2="386.00" stroke="#2b2b2b" stroke-width="1.0"/>
<text x="210.75" y="399.1" text-anchor="middle" textLength="33.1" lengthAdjust="spacingAndGlyphs">−0.50</text>
<line x1="295.73" y1="382.2" x2="295.73" y2="386.00" stroke="#2b2b2b" stroke-width="1.0"/>
<text x="295.73" y="399.1" text-anchor="middle" textLength="33.1" lengthAdjust="spacingAndGlyphs">−0.25</text>
<line x1="380.70" y1="382.2" x2="380.70" y2="386.00" stroke="#2b2b2b" stroke-width="1.0"/>
<text x="380.70" y="399.1" text-anchor="middle" textLength="24.4" lengthAdjust="spacingAndGlyphs">0.00</text>
<line x1="465.67" y1="382.2" x2="465.67" y2="386.00" stroke="#2b2b2b" stroke-width="1.0"/>
<text x="465.67" y="399.1" text-anchor="middle" textLength="24.4" lengthAdjust="spacingAndGlyphs">0.25</text>
<line x1="550.65" y1="382.2" x2="550.65" y2="386.00" stroke="#2b2b2b" stroke-width="1.0"/>
<text x="550.65" y="399.1" text-anchor="middle" textLength="24.4" lengthAdjust="spacingAndGlyphs">0.50</text>
<line x1="635.62" y1="382.2" x2="635.62" y2="386.00" stroke="#2b2b2b" stroke-width="1.0"/>
<text x="635.62" y="399.1" text-anchor="middle" textLength="24.4" lengthAdjust="spacingAndGlyphs">0.75</text>
<line x1="39.80" y1="382.30" x2="43.6" y2="382.30" stroke="#2b2b2b" stroke-width="1.0"/>
<text x="35.3" y="387.20" text-anchor="end" textLength="17.3" lengthAdjust="spacingAndGlyphs">0.0</text>
<line x1="39.80" y1="305.25" x2="43.6" y2="305.25" stroke="#2b2b2b" stroke-width="1.0"/>
<text x="35.3" y="310.15" text-anchor="end" textLength="17.3" lengthAdjust="spacingAndGlyphs">0.2</text>
<line x1="39.80" y1="228.20" x2="43.6" y2="228.20" stroke="#2b2b2b" stroke-width="1.0"/>
<text x="35.3" y="233.10" text-anchor="end" textLength="17.3" lengthAdjust="spacingAndGlyphs">0.4</text>
<line x1="39.80" y1="151.15" x2="43.6" y2="151.15" stroke="#2b2b2b" stroke-width="1.0"/>
<text x="35.3" y="156.05" text-anchor="end" textLength="17.3" lengthAdjust="spacingAndGlyphs">0.6</text>
<line x1="39.80" y1="74.10" x2="43.6" y2="74.10" stroke="#2b2b2b" stroke-width="1.0"/>
<text x="35.3" y="79.00" text-anchor="end" textLength="17.3" lengthAdjust="spacingAndGlyphs">0.8</text>
<text x="362.7" y="414.6" text-anchor="middle" textLength="93" lengthAdjust="spacingAndGlyphs">Silhouette Score</text>
<text transform="translate(10.8,194) rotate(-90)" x="0" y="0" text-anchor="middle" textLength="43.4" lengthAdjust="spacingAndGlyphs">Density</text>
<rect x="580.6" y="7.6" width="95.5" height="85.5" rx="2.5" ry="2.5" fill="#ffffff" fill-opacity="0.8" stroke="#d0d0d0" stroke-width="1"/>
<text x="612.4" y="20.7" textLength="31.1" lengthAdjust="spacingAndGlyphs">race2</text>
<line x1="584" y1="33.0" x2="608.3" y2="33.0" stroke="#1d3d4f" stroke-width="1.7"/>
<text x="617.5" y="37.2" textLength="48.2" lengthAdjust="spacingAndGlyphs">Black SA</text>
<line x1="584" y1="49.9" x2="608.3" y2="49.9" stroke="#f0a628" stroke-width="1.7"/>
<text x="617.5" y="54.0" textLength="54.3" lengthAdjust="spacingAndGlyphs">White Intl</text>
<line x1="584" y1="66.4" x2="608.3" y2="66.4" stroke="#e814ec" stroke-width="1.7"/>
<text x="617.5" y="70.3" textLength="51.5" lengthAdjust="spacingAndGlyphs">White SA</text>
<line x1="584" y1="83.1" x2="608.3" y2="83.1" stroke="#0808d8" stroke-width="1.7"/>
<text x="617.5" y="87.0" textLength="51.8" lengthAdjust="spacingAndGlyphs">Black Intl</text>
</svg>
</body></html>
